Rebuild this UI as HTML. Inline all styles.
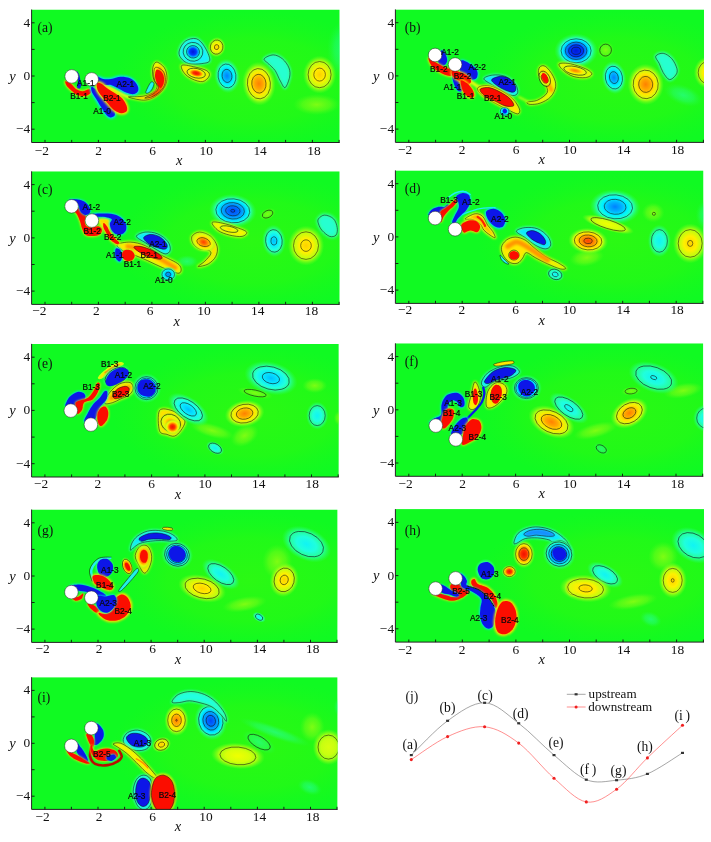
<!DOCTYPE html>
<html><head><meta charset="utf-8"><title>Vorticity contours</title>
<style>
html,body{margin:0;padding:0;background:#fff}
svg{display:block}
.tk{font-family:"Liberation Serif",serif;font-size:13.4px;fill:#111}
.ax{font-family:"Liberation Serif",serif;font-size:14.5px;font-style:italic;fill:#111}
.pl{font-family:"Liberation Serif",serif;font-size:13.6px;fill:#111}
.lg{font-family:"Liberation Serif",serif;font-size:13.1px;fill:#111}
.vl{font-family:"Liberation Sans",sans-serif;fill:#0a0a0a;stroke:#0a0a0a;stroke-width:0.22}
.ct{fill:none;stroke:#111;stroke-width:0.55}
</style></head><body>
<svg width="711" height="842" viewBox="0 0 711 842">
<rect width="711" height="842" fill="#fff"/>
<defs><radialGradient id="gB"><stop offset="0" stop-color="#0018d8"/><stop offset="0.32" stop-color="#0038ff"/><stop offset="0.48" stop-color="#0098ff"/><stop offset="0.62" stop-color="#00f0ff"/><stop offset="0.74" stop-color="#28ffc8" stop-opacity="0.9"/><stop offset="0.86" stop-color="#28ff90" stop-opacity="0.45"/><stop offset="1" stop-color="#28ff60" stop-opacity="0"/></radialGradient><radialGradient id="gB2"><stop offset="0" stop-color="#0048f8"/><stop offset="0.25" stop-color="#0070ff"/><stop offset="0.45" stop-color="#00b0ff"/><stop offset="0.62" stop-color="#00f0ff"/><stop offset="0.74" stop-color="#28ffc8" stop-opacity="0.9"/><stop offset="0.86" stop-color="#28ff90" stop-opacity="0.45"/><stop offset="1" stop-color="#28ff60" stop-opacity="0"/></radialGradient><radialGradient id="gc2"><stop offset="0" stop-color="#00c0ff"/><stop offset="0.3" stop-color="#08e8ff"/><stop offset="0.55" stop-color="#20ffe0"/><stop offset="0.72" stop-color="#28ffb8" stop-opacity="0.8"/><stop offset="0.86" stop-color="#28ff90" stop-opacity="0.4"/><stop offset="1" stop-color="#28ff60" stop-opacity="0"/></radialGradient><radialGradient id="gR2"><stop offset="0" stop-color="#ff4000"/><stop offset="0.22" stop-color="#ff7000"/><stop offset="0.42" stop-color="#ffb000"/><stop offset="0.6" stop-color="#ffe800"/><stop offset="0.74" stop-color="#d8ff10" stop-opacity="0.9"/><stop offset="0.86" stop-color="#a0ff18" stop-opacity="0.45"/><stop offset="1" stop-color="#70ff20" stop-opacity="0"/></radialGradient><radialGradient id="gb"><stop offset="0" stop-color="#0080ff"/><stop offset="0.28" stop-color="#00b4ff"/><stop offset="0.52" stop-color="#00f4ff"/><stop offset="0.72" stop-color="#28ffcc" stop-opacity="0.9"/><stop offset="0.86" stop-color="#28ff90" stop-opacity="0.45"/><stop offset="1" stop-color="#28ff60" stop-opacity="0"/></radialGradient><radialGradient id="gc"><stop offset="0" stop-color="#10f4f4"/><stop offset="0.4" stop-color="#20ffdc"/><stop offset="0.7" stop-color="#28ffb8" stop-opacity="0.8"/><stop offset="0.86" stop-color="#28ff90" stop-opacity="0.4"/><stop offset="1" stop-color="#28ff60" stop-opacity="0"/></radialGradient><radialGradient id="gk"><stop offset="0" stop-color="#28ffc0" stop-opacity="0.5"/><stop offset="0.55" stop-color="#28ffb0" stop-opacity="0.3"/><stop offset="1" stop-color="#28ff60" stop-opacity="0"/></radialGradient><radialGradient id="gR"><stop offset="0" stop-color="#f01000"/><stop offset="0.28" stop-color="#ff3000"/><stop offset="0.46" stop-color="#ff9000"/><stop offset="0.62" stop-color="#ffe800"/><stop offset="0.74" stop-color="#d8ff10" stop-opacity="0.9"/><stop offset="0.86" stop-color="#a0ff18" stop-opacity="0.45"/><stop offset="1" stop-color="#70ff20" stop-opacity="0"/></radialGradient><radialGradient id="go"><stop offset="0" stop-color="#ff8000"/><stop offset="0.26" stop-color="#ffa800"/><stop offset="0.5" stop-color="#ffe800"/><stop offset="0.72" stop-color="#d8ff10" stop-opacity="0.9"/><stop offset="0.86" stop-color="#a0ff18" stop-opacity="0.45"/><stop offset="1" stop-color="#70ff20" stop-opacity="0"/></radialGradient><radialGradient id="gy"><stop offset="0" stop-color="#ffd000"/><stop offset="0.36" stop-color="#fff000"/><stop offset="0.7" stop-color="#d0ff10" stop-opacity="0.85"/><stop offset="0.86" stop-color="#a0ff18" stop-opacity="0.4"/><stop offset="1" stop-color="#70ff20" stop-opacity="0"/></radialGradient><radialGradient id="gw"><stop offset="0" stop-color="#c8ff10" stop-opacity="0.55"/><stop offset="0.6" stop-color="#a8ff18" stop-opacity="0.32"/><stop offset="1" stop-color="#70ff20" stop-opacity="0"/></radialGradient><radialGradient id="ghz"><stop offset="0" stop-color="#50f800" stop-opacity="0.42"/><stop offset="0.6" stop-color="#48f800" stop-opacity="0.3"/><stop offset="1" stop-color="#30f810" stop-opacity="0"/></radialGradient><radialGradient id="gv2"><stop offset="0" stop-color="#d8ff10"/><stop offset="0.45" stop-color="#d0ff10" stop-opacity="0.95"/><stop offset="0.72" stop-color="#b8ff14" stop-opacity="0.8"/><stop offset="0.86" stop-color="#a0ff18" stop-opacity="0.4"/><stop offset="1" stop-color="#70ff20" stop-opacity="0"/></radialGradient><radialGradient id="gv"><stop offset="0" stop-color="#f0ff00"/><stop offset="0.45" stop-color="#e0ff08" stop-opacity="0.95"/><stop offset="0.72" stop-color="#c0ff10" stop-opacity="0.8"/><stop offset="0.86" stop-color="#a0ff18" stop-opacity="0.4"/><stop offset="1" stop-color="#70ff20" stop-opacity="0"/></radialGradient><filter id="bl0" x="-20%" y="-20%" width="140%" height="140%"><feGaussianBlur stdDeviation="0.45"/></filter><filter id="bl1" x="-30%" y="-30%" width="160%" height="160%"><feGaussianBlur stdDeviation="0.9"/></filter><filter id="bl2" x="-40%" y="-40%" width="180%" height="180%"><feGaussianBlur stdDeviation="1.8"/></filter><filter id="bl3" x="-50%" y="-50%" width="200%" height="200%"><feGaussianBlur stdDeviation="4"/></filter><clipPath id="cpa"><rect x="31.6" y="9.5" width="308.1" height="133"/></clipPath><clipPath id="cpb"><rect x="395.4" y="9.4" width="308.6" height="133"/></clipPath><clipPath id="cpc"><rect x="31.6" y="171.3" width="308.1" height="133.1"/></clipPath><clipPath id="cpd"><rect x="395.4" y="170.4" width="308.1" height="133"/></clipPath><clipPath id="cpe"><rect x="31.6" y="343.9" width="307.2" height="133.1"/></clipPath><clipPath id="cpf"><rect x="395.4" y="343.3" width="307.9" height="133"/></clipPath><clipPath id="cpg"><rect x="31.6" y="509.5" width="306" height="132.9"/></clipPath><clipPath id="cph"><rect x="395.4" y="509.1" width="308.6" height="133"/></clipPath><clipPath id="cpi"><rect x="31.6" y="677.2" width="306" height="132.2"/></clipPath></defs>
<g clip-path="url(#cpa)"><rect x="31.6" y="9.5" width="308.1" height="133" fill="#10fa22"/><ellipse cx="252.2" cy="80" rx="139.9" ry="69.3" fill="url(#ghz)"/><ellipse transform="translate(342.7,49.7) rotate(0)" rx="15.7" ry="28.8" fill="url(#gk)"/><ellipse transform="translate(316.5,104.6) rotate(0)" rx="23.5" ry="10.5" fill="url(#gw)"/><path d="M106.1,85.7C107.9,86.7 113.2,89.7 116.9,91.6C120.7,93.5 126.8,96.2 128.8,97.1" fill="none" stroke="#e8ff10" stroke-width="3.5" stroke-linecap="round" stroke-linejoin="round" opacity="1" filter="url(#bl1)"/><path d="M128.4,96.9C128.1,97.3 134,98.8 136.9,99.3C139.8,99.9 143.1,100.4 145.9,100C148.7,99.7 151.1,98.7 153.8,97.2C156.4,95.7 159.6,93.5 161.6,91.2C163.7,88.9 165.3,86 166.1,83.4C167,80.7 167.1,77.9 166.8,75.3C166.5,72.6 165.7,69.6 164.1,67.4C162.5,65.2 159.1,62.7 157.4,62.2C155.6,61.7 154.6,63 153.8,64.6C152.9,66.2 152.5,69.3 152.5,71.9C152.5,74.4 153,77.4 153.8,79.8C154.5,82.2 157.1,84.3 157.1,86.3C157.2,88.3 155.7,90.4 154,91.9C152.3,93.4 149.5,94.5 147,95.3C144.5,96.1 142.2,96.4 139.1,96.6C136,96.9 128.8,96.4 128.4,96.9Z" fill="#fff000" stroke="#c8ff10" stroke-width="2" opacity="1" filter="url(#bl1)"/><path d="M128.4,96.9C128.1,97.3 134,98.8 136.9,99.3C139.8,99.9 143.1,100.4 145.9,100C148.7,99.7 151.1,98.7 153.8,97.2C156.4,95.7 159.6,93.5 161.6,91.2C163.7,88.9 165.3,86 166.1,83.4C167,80.7 167.1,77.9 166.8,75.3C166.5,72.6 165.7,69.6 164.1,67.4C162.5,65.2 159.1,62.7 157.4,62.2C155.6,61.7 154.6,63 153.8,64.6C152.9,66.2 152.5,69.3 152.5,71.9C152.5,74.4 153,77.4 153.8,79.8C154.5,82.2 157.1,84.3 157.1,86.3C157.2,88.3 155.7,90.4 154,91.9C152.3,93.4 149.5,94.5 147,95.3C144.5,96.1 142.2,96.4 139.1,96.6C136,96.9 128.8,96.4 128.4,96.9Z" class="ct"/><path d="M148.1,97.5C149.1,97 151.8,96 153.8,94.6C155.7,93.2 158.3,91.2 159.9,89.3C161.6,87.4 163.1,85.5 163.7,83.1C164.2,80.8 164,77.7 163.3,75.3C162.6,72.8 160,69.6 159.4,68.5" fill="none" stroke="#ff9800" stroke-width="3.6" stroke-linecap="round" stroke-linejoin="round" opacity="1" filter="url(#bl1)"/><path d="M136.9,98C138.8,97.9 146.3,97.6 148.1,97.5" fill="none" stroke="#ffc000" stroke-width="1.6" stroke-linecap="round" stroke-linejoin="round" opacity="1" filter="url(#bl1)"/><path d="M160.7,87.6C160.2,88.4 159,90.8 157.7,92.1C156.3,93.5 153.5,95.1 152.6,95.7" fill="none" stroke="#ff3000" stroke-width="2.2" stroke-linecap="round" stroke-linejoin="round" opacity="1" filter="url(#bl1)"/><path d="M145.9,91.6C146.5,89.8 149.5,83.6 150.8,82.3C152.2,81 153.9,82.4 154,83.7C154.1,85 152.5,88.6 151.4,90.2C150.3,91.8 148.4,92.9 147.5,93.2C146.5,93.4 145.3,93.4 145.9,91.6Z" fill="#20f8e8" opacity="1" filter="url(#bl0)"/><path d="M145.9,91.6C146.5,89.8 149.5,83.6 150.8,82.3C152.2,81 153.9,82.4 154,83.7C154.1,85 152.5,88.6 151.4,90.2C150.3,91.8 148.4,92.9 147.5,93.2C146.5,93.4 145.3,93.4 145.9,91.6Z" class="ct"/><path d="M179.2,51C179.9,48.2 182.3,43.4 185.2,41.3C188,39.3 192.9,37.8 196.2,38.7C199.4,39.6 202.3,43 204.5,46.6C206.8,50.1 210.2,57.3 209.8,60.2C209.3,63 205.4,63 201.9,63.6C198.4,64.1 192.3,64.5 188.8,63.6C185.3,62.7 182.6,60.2 181,58.1C179.4,56 178.5,53.8 179.2,51Z" fill="#18f0ff" stroke="#30ffb0" stroke-width="2.5" opacity="1" filter="url(#bl1)"/><path d="M179.2,51C179.9,48.2 182.3,43.4 185.2,41.3C188,39.3 192.9,37.8 196.2,38.7C199.4,39.6 202.3,43 204.5,46.6C206.8,50.1 210.2,57.3 209.8,60.2C209.3,63 205.4,63 201.9,63.6C198.4,64.1 192.3,64.5 188.8,63.6C185.3,62.7 182.6,60.2 181,58.1C179.4,56 178.5,53.8 179.2,51Z" class="ct"/><g transform="translate(193,51.8) rotate(15)"><ellipse rx="10.5" ry="9.9" fill="url(#gB)"/><ellipse rx="9.9" ry="9.4" class="ct"/><ellipse rx="6.5" ry="6.2" class="ct"/></g><g transform="translate(216.6,47.1) rotate(10)"><ellipse rx="9.1" ry="10.2" fill="url(#gy)"/><ellipse rx="6.3" ry="7.1" class="ct"/><ellipse rx="2.2" ry="2.5" class="ct"/></g><path d="M181.8,65.4C183.3,64.3 189.4,65.8 193.5,66.7C197.7,67.6 204,69.1 206.6,70.6C209.2,72.2 209.9,74 209.2,75.9C208.6,77.7 205.5,81.1 202.7,81.6C199.9,82.1 195.3,80.4 192.2,79C189.2,77.6 186.1,75.5 184.4,73.2C182.6,71 180.2,66.5 181.8,65.4Z" fill="#ffe800" stroke="#c8ff10" stroke-width="2.5" opacity="1" filter="url(#bl1)"/><path d="M181.8,65.4C183.3,64.3 189.4,65.8 193.5,66.7C197.7,67.6 204,69.1 206.6,70.6C209.2,72.2 209.9,74 209.2,75.9C208.6,77.7 205.5,81.1 202.7,81.6C199.9,82.1 195.3,80.4 192.2,79C189.2,77.6 186.1,75.5 184.4,73.2C182.6,71 180.2,66.5 181.8,65.4Z" class="ct"/><g transform="translate(196.2,73.2) rotate(12)"><ellipse rx="11" ry="5.5" fill="url(#gR)"/><ellipse rx="9.3" ry="4.7" class="ct"/></g><g transform="translate(227,75.9) rotate(-8)"><ellipse rx="12.9" ry="17.4" fill="url(#gb)"/><ellipse rx="8.9" ry="12" class="ct"/><ellipse rx="4.9" ry="6.6" class="ct"/></g><g transform="translate(258.9,83.7) rotate(-5)"><ellipse rx="16.7" ry="22" fill="url(#go)"/><ellipse rx="11.5" ry="15.2" class="ct"/><ellipse rx="7.1" ry="9.4" class="ct"/></g><path d="M264.2,58.9C264.9,57.3 270.3,54.9 273.3,54.9C276.4,54.9 279.9,56.7 282.5,58.9C285.1,61 287.9,65 289,68C290.2,71.1 290.2,73.9 289.6,77.2C288.9,80.4 286.6,87 285.1,87.6C283.6,88.3 282.1,83.9 280.4,81.1C278.7,78.3 277.1,73.5 275.2,70.6C273.2,67.8 270.7,66.1 268.9,64.1C267.1,62.1 263.4,60.4 264.2,58.9Z" fill="#28ffd0" stroke="#30ffa0" stroke-width="3" opacity="1" filter="url(#bl1)"/><path d="M264.2,58.9C264.9,57.3 270.3,54.9 273.3,54.9C276.4,54.9 279.9,56.7 282.5,58.9C285.1,61 287.9,65 289,68C290.2,71.1 290.2,73.9 289.6,77.2C288.9,80.4 286.6,87 285.1,87.6C283.6,88.3 282.1,83.9 280.4,81.1C278.7,78.3 277.1,73.5 275.2,70.6C273.2,67.8 270.7,66.1 268.9,64.1C267.1,62.1 263.4,60.4 264.2,58.9Z" class="ct"/><g transform="translate(319.6,74.6) rotate(0)"><ellipse rx="16.7" ry="19" fill="url(#gy)"/><ellipse rx="11.5" ry="13.1" class="ct"/><ellipse rx="5.8" ry="6.5" class="ct"/></g><path d="M76.7,70.7C76.9,70.3 78.5,73 79.1,74.6C79.7,76.2 80.1,78.4 80.4,80.3C80.7,82.1 81.1,84.5 80.9,85.9C80.8,87.3 80,88.6 79.4,88.8C78.7,89 77.1,88.3 76.9,87.2C76.6,86.2 77.6,84.2 77.8,82.5C77.9,80.8 78,78.8 77.8,76.9C77.6,74.9 76.4,71.1 76.7,70.7Z" fill="#0818e8" filter="url(#bl0)"/><path d="M65.4,81.2C66.2,80.9 69.5,82.8 71.3,84.1C73,85.4 74.1,87.8 76,89C77.9,90.2 80.3,91.2 82.5,91.3C84.7,91.3 87.8,89.1 89.3,89.3C90.7,89.4 91.7,91.1 91.2,92.2C90.6,93.2 88.3,95.2 86.1,95.7C83.9,96.2 80.5,96.1 78,95.2C75.5,94.3 72.9,91.8 71,90.2C69.1,88.5 67.5,86.9 66.5,85.4C65.6,83.9 64.6,81.4 65.4,81.2Z" fill="#ffe000" stroke="#ffe000" stroke-width="1.5" filter="url(#bl1)"/><path d="M65.4,81.2C66.2,80.9 69.5,82.8 71.3,84.1C73,85.4 74.1,87.8 76,89C77.9,90.2 80.3,91.2 82.5,91.3C84.7,91.3 87.8,89.1 89.3,89.3C90.7,89.4 91.7,91.1 91.2,92.2C90.6,93.2 88.3,95.2 86.1,95.7C83.9,96.2 80.5,96.1 78,95.2C75.5,94.3 72.9,91.8 71,90.2C69.1,88.5 67.5,86.9 66.5,85.4C65.6,83.9 64.6,81.4 65.4,81.2Z" fill="#fb0a00" filter="url(#bl0)"/><path d="M97.3,77C98.1,76.3 100.9,78.7 103.2,79C105.5,79.3 108.1,79.3 111,79C114,78.6 117.5,76.9 120.9,76.8C124.2,76.8 128.4,77.4 131.1,78.8C133.8,80.1 136,82.9 137.2,84.9C138.4,86.9 138.7,89.1 138.2,90.6C137.7,92.1 136,93.8 134.1,94.1C132.2,94.5 129.3,93.7 126.8,92.8C124.3,91.9 121.5,90.1 118.9,88.8C116.3,87.5 113.5,85.6 111,84.9C108.6,84.2 106.3,85.2 104.1,84.9C102,84.6 99.4,84.6 98.2,83.3C97.1,82 96.4,77.7 97.3,77Z" fill="#00e0ff" stroke="#00e0ff" stroke-width="2.6" filter="url(#bl1)"/><path d="M97.3,77C98.1,76.3 100.9,78.7 103.2,79C105.5,79.3 108.1,79.3 111,79C114,78.6 117.5,76.9 120.9,76.8C124.2,76.8 128.4,77.4 131.1,78.8C133.8,80.1 136,82.9 137.2,84.9C138.4,86.9 138.7,89.1 138.2,90.6C137.7,92.1 136,93.8 134.1,94.1C132.2,94.5 129.3,93.7 126.8,92.8C124.3,91.9 121.5,90.1 118.9,88.8C116.3,87.5 113.5,85.6 111,84.9C108.6,84.2 106.3,85.2 104.1,84.9C102,84.6 99.4,84.6 98.2,83.3C97.1,82 96.4,77.7 97.3,77Z" fill="#0818e8" filter="url(#bl0)"/><path d="M91.5,86.9C92.3,86.6 94.8,88.6 96.5,90.4C98.1,92.2 99.6,95.3 101.6,97.7C103.6,100.1 106.4,102.5 108.5,104.6C110.5,106.7 113,108.7 114,110.5C115,112.3 115.2,114.5 114.6,115.6C114,116.8 111.7,117.6 110.3,117.4C108.8,117.2 107.4,115.9 105.9,114.2C104.4,112.6 102.9,110 101.2,107.3C99.5,104.7 97.4,101 95.9,98.5C94.3,95.9 92.7,93.9 91.9,92C91.2,90 90.8,87.1 91.5,86.9Z" fill="#00e0ff" stroke="#00e0ff" stroke-width="2.6" filter="url(#bl1)"/><path d="M91.5,86.9C92.3,86.6 94.8,88.6 96.5,90.4C98.1,92.2 99.6,95.3 101.6,97.7C103.6,100.1 106.4,102.5 108.5,104.6C110.5,106.7 113,108.7 114,110.5C115,112.3 115.2,114.5 114.6,115.6C114,116.8 111.7,117.6 110.3,117.4C108.8,117.2 107.4,115.9 105.9,114.2C104.4,112.6 102.9,110 101.2,107.3C99.5,104.7 97.4,101 95.9,98.5C94.3,95.9 92.7,93.9 91.9,92C91.2,90 90.8,87.1 91.5,86.9Z" fill="#0818e8" filter="url(#bl0)"/><path d="M96.9,83.3C97.5,82.2 99.8,82.8 101.6,83.7C103.4,84.6 105.2,87 107.5,88.6C109.8,90.3 112.9,91.9 115.4,93.6C117.9,95.2 120.6,96.6 122.5,98.7C124.3,100.7 125.9,103.7 126.6,105.8C127.3,107.9 127.5,110 126.6,111.3C125.7,112.5 123.3,113.4 121.3,113.2C119.3,113.1 116.7,112 114.6,110.5C112.5,109 110.6,106.6 108.7,104.4C106.7,102.2 104.6,99.8 102.8,97.5C101,95.2 98.8,93 97.8,90.6C96.9,88.2 96.2,84.5 96.9,83.3Z" fill="#ffe000" stroke="#ffe000" stroke-width="3.2" filter="url(#bl1)"/><path d="M96.9,83.3C97.5,82.2 99.8,82.8 101.6,83.7C103.4,84.6 105.2,87 107.5,88.6C109.8,90.3 112.9,91.9 115.4,93.6C117.9,95.2 120.6,96.6 122.5,98.7C124.3,100.7 125.9,103.7 126.6,105.8C127.3,107.9 127.5,110 126.6,111.3C125.7,112.5 123.3,113.4 121.3,113.2C119.3,113.1 116.7,112 114.6,110.5C112.5,109 110.6,106.6 108.7,104.4C106.7,102.2 104.6,99.8 102.8,97.5C101,95.2 98.8,93 97.8,90.6C96.9,88.2 96.2,84.5 96.9,83.3Z" fill="#fb0a00" filter="url(#bl0)"/><path d="M157.1,69.4C158.2,69.4 160.5,70.5 161.6,71.9C162.8,73.2 163.7,75.4 164,77.5C164.3,79.6 164,82.5 163.4,84.3C162.9,86 161.5,88 160.5,88.1C159.5,88.1 158.3,86.2 157.4,84.5C156.5,82.7 155.4,79.6 155.1,77.5C154.8,75.4 155.1,73.2 155.4,71.9C155.8,70.5 156.1,69.4 157.1,69.4Z" fill="#fb0a00" filter="url(#bl0)"/><circle cx="71.7" cy="76.4" r="6.8" fill="#fff" stroke="#222" stroke-width="0.5"/><circle cx="91.7" cy="79.4" r="6.8" fill="#fff" stroke="#222" stroke-width="0.5"/><path d="M155.8,67.2C157.3,66.8 161.2,69 162.8,70.8C164.3,72.5 165,75.1 165.2,77.5C165.5,79.9 165.4,82.9 164.4,85.4C163.5,87.8 161.5,90.2 159.4,92.1C157.2,94 153.9,95.9 151.5,96.9C149.1,97.8 144.4,98.5 144.8,98C145.1,97.4 151.5,95.2 153.8,93.5C156,91.8 158.3,89.7 158.5,87.6C158.7,85.5 155.7,83.3 154.9,80.9C154.1,78.4 153.6,75.3 153.8,73C153.9,70.7 154.3,67.5 155.8,67.2Z" class="ct"/><text x="77" y="85.9" class="vl" font-size="8.3">A1-1</text><text x="70.3" y="98.9" class="vl" font-size="8.3">B1-1</text><text x="116.6" y="86.5" class="vl" font-size="8.3">A2-1</text><text x="103.2" y="100.6" class="vl" font-size="8.3">B2-1</text><text x="93.3" y="114" class="vl" font-size="8.3">A1-0</text></g>
<path d="M31.6,9.5V142.5H339.7" fill="none" stroke="#222" stroke-width="1"/><path d="M45,142.5v-2.6M71.7,142.5v-2.6M98.4,142.5v-2.6M125.2,142.5v-2.6M151.9,142.5v-2.6M178.7,142.5v-2.6M205.4,142.5v-2.6M232.1,142.5v-2.6M258.9,142.5v-2.6M285.6,142.5v-2.6M312.4,142.5v-2.6M339.1,142.5v-2.6M31.6,129.2h3M31.6,102.6h3M31.6,76h3M31.6,49.4h3M31.6,22.8h3" stroke="#111" stroke-width="0.9" fill="none"/><text x="41.8" y="154.5" class="tk" text-anchor="middle">−2</text><text x="98.7" y="154.5" class="tk" text-anchor="middle">2</text><text x="152.5" y="154.5" class="tk" text-anchor="middle">6</text><text x="206.3" y="154.5" class="tk" text-anchor="middle">10</text><text x="260.1" y="154.5" class="tk" text-anchor="middle">14</text><text x="313.9" y="154.5" class="tk" text-anchor="middle">18</text><text x="30.3" y="133.1" class="tk" text-anchor="end">−4</text><text x="30.3" y="79.9" class="tk" text-anchor="end">0</text><text x="30.3" y="26.7" class="tk" text-anchor="end">4</text><text x="9.3" y="80.8" class="ax">y</text><text x="176.1" y="164.5" class="ax">x</text><text x="37.4" y="32.3" class="pl">(a)</text>
<g clip-path="url(#cpb)"><rect x="395.4" y="9.4" width="308.6" height="133" fill="#10fa22"/><ellipse cx="616.3" cy="79.9" rx="139.9" ry="69.3" fill="url(#ghz)"/><ellipse transform="translate(683.2,95.1) rotate(20)" rx="20" ry="10" fill="url(#gk)"/><path d="M470.1,81.3C471.6,82.3 475.9,85.4 478.9,87.1C481.8,88.7 486.2,90.6 487.6,91.3" fill="none" stroke="#f0ff10" stroke-width="3.5" stroke-linecap="round" stroke-linejoin="round" opacity="1" filter="url(#bl1)"/><path d="M483.9,78.8C483.9,77.1 489.1,75.5 492.6,75.1C496.2,74.6 501.4,74.9 505.2,76.3C508.9,77.8 513.1,81.1 515.2,83.8C517.3,86.5 518.1,90.6 517.7,92.6C517.3,94.5 515.2,95.8 512.7,95.6C510.2,95.4 506,93.1 502.7,91.3C499.3,89.6 495.8,87.2 492.6,85.1C489.5,83 483.9,80.5 483.9,78.8Z" fill="#10e8ff" stroke="#30ffb0" stroke-width="2" opacity="1" filter="url(#bl1)"/><path d="M483.9,78.8C483.9,77.1 489.1,75.5 492.6,75.1C496.2,74.6 501.4,74.9 505.2,76.3C508.9,77.8 513.1,81.1 515.2,83.8C517.3,86.5 518.1,90.6 517.7,92.6C517.3,94.5 515.2,95.8 512.7,95.6C510.2,95.4 506,93.1 502.7,91.3C499.3,89.6 495.8,87.2 492.6,85.1C489.5,83 483.9,80.5 483.9,78.8Z" class="ct"/><path d="M477.6,88.1C478.5,86.4 483.9,85.2 487.6,85.6C491.4,85.9 496,87.9 500.1,90.1C504.3,92.3 509.5,95.7 512.7,98.8C515.9,102 518.6,106.4 519.4,108.9C520.3,111.4 519.6,113.7 517.7,113.9C515.7,114 511.4,111.4 507.7,109.6C503.9,107.8 499.3,105.4 495.1,103.1C491,100.8 485.5,98.1 482.6,95.6C479.7,93.1 476.8,89.8 477.6,88.1Z" fill="#ffe800" stroke="#c0ff10" stroke-width="2" opacity="1" filter="url(#bl1)"/><path d="M477.6,88.1C478.5,86.4 483.9,85.2 487.6,85.6C491.4,85.9 496,87.9 500.1,90.1C504.3,92.3 509.5,95.7 512.7,98.8C515.9,102 518.6,106.4 519.4,108.9C520.3,111.4 519.6,113.7 517.7,113.9C515.7,114 511.4,111.4 507.7,109.6C503.9,107.8 499.3,105.4 495.1,103.1C491,100.8 485.5,98.1 482.6,95.6C479.7,93.1 476.8,89.8 477.6,88.1Z" class="ct"/><g transform="translate(504.7,111.4) rotate(0)"><ellipse rx="6.4" ry="5.6" fill="url(#gb)"/><ellipse rx="4.3" ry="3.8" class="ct"/></g><path d="M527.2,102.1C528.4,101.4 534.4,101.7 537.7,100.1C541,98.5 546,95.3 547.2,92.6C548.5,89.9 546.6,86.7 545.2,83.8C543.8,80.9 539.6,77.9 538.7,75.1C537.8,72.3 538.5,68.5 539.7,67.1C540.9,65.6 543.5,65 545.7,66.6C548,68.1 551.6,73 553.2,76.3C554.9,79.6 556.1,82.9 555.7,86.3C555.3,89.8 553.3,94 550.7,96.8C548.1,99.6 543.6,101.9 540.2,103.1C536.8,104.4 532.4,104.5 530.2,104.4C528,104.2 525.9,102.8 527.2,102.1Z" fill="#f4f400" stroke="#c0ff10" stroke-width="2" opacity="1" filter="url(#bl1)"/><path d="M527.2,102.1C528.4,101.4 534.4,101.7 537.7,100.1C541,98.5 546,95.3 547.2,92.6C548.5,89.9 546.6,86.7 545.2,83.8C543.8,80.9 539.6,77.9 538.7,75.1C537.8,72.3 538.5,68.5 539.7,67.1C540.9,65.6 543.5,65 545.7,66.6C548,68.1 551.6,73 553.2,76.3C554.9,79.6 556.1,82.9 555.7,86.3C555.3,89.8 553.3,94 550.7,96.8C548.1,99.6 543.6,101.9 540.2,103.1C536.8,104.4 532.4,104.5 530.2,104.4C528,104.2 525.9,102.8 527.2,102.1Z" class="ct"/><path d="M542.7,72.6C543.5,74 545.8,78.4 547.2,81.3C548.7,84.2 550.8,88.6 551.5,90.1" fill="none" stroke="#ffa000" stroke-width="4" stroke-linecap="round" stroke-linejoin="round" opacity="1" filter="url(#bl1)"/><g transform="translate(544.7,78.8) rotate(-25)"><ellipse rx="5.5" ry="8.5" fill="url(#gR)"/><ellipse rx="5.2" ry="8.1" class="ct"/><ellipse rx="3" ry="4.7" class="ct"/></g><path d="M518.9,97.1C520.4,97.8 526.2,100.8 527.7,101.6" fill="none" stroke="#c0ff10" stroke-width="2" stroke-linecap="round" stroke-linejoin="round" opacity="1" filter="url(#bl1)"/><g transform="translate(576.1,50.8) rotate(0)"><ellipse rx="21.8" ry="17.4" fill="url(#gB)"/><ellipse rx="15" ry="12" class="ct"/><ellipse rx="10.8" ry="8.7" class="ct"/><ellipse rx="7.5" ry="6" class="ct"/><ellipse rx="4.5" ry="3.6" class="ct"/></g><g transform="translate(605.6,50.1) rotate(20)"><ellipse rx="8.6" ry="9" fill="url(#gw)"/><ellipse rx="5.8" ry="6" class="ct"/></g><path d="M559.3,63.8C560.5,62.8 566.2,63 570.6,63.8C574.9,64.7 582,67.2 585.6,68.8C589.1,70.5 591.8,72.4 591.8,73.9C591.8,75.3 588.7,77.2 585.6,77.6C582.4,78 576.8,77.6 573.1,76.4C569.3,75.1 565.3,72.2 563,70.1C560.7,68 558,64.9 559.3,63.8Z" fill="#fff000" stroke="#c0ff10" stroke-width="2.5" opacity="1" filter="url(#bl1)"/><path d="M559.3,63.8C560.5,62.8 566.2,63 570.6,63.8C574.9,64.7 582,67.2 585.6,68.8C589.1,70.5 591.8,72.4 591.8,73.9C591.8,75.3 588.7,77.2 585.6,77.6C582.4,78 576.8,77.6 573.1,76.4C569.3,75.1 565.3,72.2 563,70.1C560.7,68 558,64.9 559.3,63.8Z" class="ct"/><g transform="translate(575.1,70.6) rotate(12)"><ellipse rx="14.4" ry="5" fill="url(#go)"/><ellipse rx="11.5" ry="4" class="ct"/></g><g transform="translate(613.9,77.6) rotate(-10)"><ellipse rx="12.3" ry="16.7" fill="url(#gb)"/><ellipse rx="8.5" ry="11.5" class="ct"/><ellipse rx="4.4" ry="6" class="ct"/></g><g transform="translate(645.7,84.4) rotate(-5)"><ellipse rx="18.2" ry="20.7" fill="url(#go)"/><ellipse rx="12.5" ry="14.3" class="ct"/><ellipse rx="7" ry="8" class="ct"/></g><path d="M655.7,56.3C656.3,54.6 660.5,52.9 663.2,53.3C665.9,53.7 669.7,56.2 671.9,58.8C674.2,61.4 676.3,66.1 677,68.8C677.6,71.6 677,73.3 675.7,75.1C674.4,76.9 671.5,80 669.4,79.6C667.4,79.2 664.9,75.2 663.2,72.6C661.5,70 660.7,66.6 659.4,63.8C658.2,61.1 655,58.1 655.7,56.3Z" fill="#28ffd0" stroke="#30ffa0" stroke-width="3" opacity="1" filter="url(#bl1)"/><path d="M655.7,56.3C656.3,54.6 660.5,52.9 663.2,53.3C665.9,53.7 669.7,56.2 671.9,58.8C674.2,61.4 676.3,66.1 677,68.8C677.6,71.6 677,73.3 675.7,75.1C674.4,76.9 671.5,80 669.4,79.6C667.4,79.2 664.9,75.2 663.2,72.6C661.5,70 660.7,66.6 659.4,63.8C658.2,61.1 655,58.1 655.7,56.3Z" class="ct"/><g transform="translate(708.2,72.6) rotate(0)"><ellipse rx="14.5" ry="16.3" fill="url(#gy)"/><ellipse rx="10" ry="11.3" class="ct"/></g><path d="M441.3,50.5C442.5,49.2 444.6,52.7 445.6,54.5C446.5,56.3 447.5,59.4 447.1,61.3C446.7,63.2 444.5,65.6 443.1,65.8C441.6,66 438.6,65.1 438.3,62.5C438,60 440.1,51.9 441.3,50.5Z" fill="#00e0ff" stroke="#00e0ff" stroke-width="1" filter="url(#bl1)"/><path d="M441.3,50.5C442.5,49.2 444.6,52.7 445.6,54.5C446.5,56.3 447.5,59.4 447.1,61.3C446.7,63.2 444.5,65.6 443.1,65.8C441.6,66 438.6,65.1 438.3,62.5C438,60 440.1,51.9 441.3,50.5Z" fill="#0818e8" filter="url(#bl0)"/><path d="M428.5,58C429,57.3 432.6,60.6 435.1,62C437.5,63.5 440.2,65.2 443.1,66.6C445.9,67.9 449.7,68.8 452.1,70.1C454.4,71.3 457.5,72.8 457.1,73.8C456.7,74.8 452.4,76.3 449.6,76.1C446.7,75.9 443,74.1 440.1,72.6C437.1,71 434,69 432.1,66.6C430.1,64.1 428,58.8 428.5,58Z" fill="#ffe000" stroke="#ffe000" stroke-width="1.5" filter="url(#bl1)"/><path d="M428.5,58C429,57.3 432.6,60.6 435.1,62C437.5,63.5 440.2,65.2 443.1,66.6C445.9,67.9 449.7,68.8 452.1,70.1C454.4,71.3 457.5,72.8 457.1,73.8C456.7,74.8 452.4,76.3 449.6,76.1C446.7,75.9 443,74.1 440.1,72.6C437.1,71 434,69 432.1,66.6C430.1,64.1 428,58.8 428.5,58Z" fill="#fb0a00" filter="url(#bl0)"/><path d="M461.3,60.5C463.1,59.4 468,62.6 470.6,64.3C473.2,66 476.1,68.5 477.1,70.8C478.1,73.1 477.7,76.6 476.6,78.1C475.5,79.5 472.5,79.9 470.6,79.6C468.7,79.2 466.9,77.2 465.1,75.8C463.3,74.4 460.7,73.9 460.1,71.3C459.5,68.8 459.6,61.7 461.3,60.5Z" fill="#00e0ff" stroke="#00e0ff" stroke-width="1.5" filter="url(#bl1)"/><path d="M461.3,60.5C463.1,59.4 468,62.6 470.6,64.3C473.2,66 476.1,68.5 477.1,70.8C478.1,73.1 477.7,76.6 476.6,78.1C475.5,79.5 472.5,79.9 470.6,79.6C468.7,79.2 466.9,77.2 465.1,75.8C463.3,74.4 460.7,73.9 460.1,71.3C459.5,68.8 459.6,61.7 461.3,60.5Z" fill="#0818e8" filter="url(#bl0)"/><path d="M452.1,74.6C452.7,73.5 455.8,76.6 457.6,78.1C459.3,79.5 461.8,81.2 462.6,83.3C463.3,85.5 462.9,89.6 462.1,90.8C461.3,92 458.9,91.7 457.6,90.6C456.3,89.5 455,87 454.1,84.3C453.2,81.7 451.5,75.6 452.1,74.6Z" fill="#00e0ff" stroke="#00e0ff" stroke-width="1" filter="url(#bl1)"/><path d="M452.1,74.6C452.7,73.5 455.8,76.6 457.6,78.1C459.3,79.5 461.8,81.2 462.6,83.3C463.3,85.5 462.9,89.6 462.1,90.8C461.3,92 458.9,91.7 457.6,90.6C456.3,89.5 455,87 454.1,84.3C453.2,81.7 451.5,75.6 452.1,74.6Z" fill="#0818e8" filter="url(#bl0)"/><path d="M452.1,70.6C453,69.7 456.3,71 458.8,71.8C461.3,72.6 465.1,74 467.1,75.6C469.1,77.1 471.1,79.8 471.1,81.3C471.1,82.9 469,84.9 467.1,84.8C465.2,84.8 461.9,82.4 459.6,81.1C457.3,79.7 454.3,78.6 453.1,76.8C451.8,75.1 451.1,71.4 452.1,70.6Z" fill="#ffe000" stroke="#ffe000" stroke-width="2" filter="url(#bl1)"/><path d="M452.1,70.6C453,69.7 456.3,71 458.8,71.8C461.3,72.6 465.1,74 467.1,75.6C469.1,77.1 471.1,79.8 471.1,81.3C471.1,82.9 469,84.9 467.1,84.8C465.2,84.8 461.9,82.4 459.6,81.1C457.3,79.7 454.3,78.6 453.1,76.8C451.8,75.1 451.1,71.4 452.1,70.6Z" fill="#fb0a00" filter="url(#bl0)"/><path d="M460.6,80.6C461.2,79.1 464.9,81.6 466.9,83.1C468.8,84.6 471.1,87.4 472.4,89.6C473.6,91.8 474.7,94.8 474.1,96.1C473.6,97.4 470.9,98.1 469.1,97.3C467.3,96.6 464.8,94.6 463.3,91.8C461.9,89 460,82 460.6,80.6Z" fill="#ffe000" stroke="#ffe000" stroke-width="2" filter="url(#bl1)"/><path d="M460.6,80.6C461.2,79.1 464.9,81.6 466.9,83.1C468.8,84.6 471.1,87.4 472.4,89.6C473.6,91.8 474.7,94.8 474.1,96.1C473.6,97.4 470.9,98.1 469.1,97.3C467.3,96.6 464.8,94.6 463.3,91.8C461.9,89 460,82 460.6,80.6Z" fill="#fb0a00" filter="url(#bl0)"/><path d="M491.6,79.8C492.2,78.3 497.6,76.4 500.6,76.3C503.7,76.2 507.7,77.5 510.2,79.3C512.7,81.1 515.1,85 515.7,87.1C516.3,89.2 515.4,91.6 513.7,92.1C511.9,92.6 507.9,91.2 505.2,90.1C502.4,89 499.4,87.3 497.1,85.6C494.9,83.9 491.1,81.4 491.6,79.8Z" fill="#0818e8" filter="url(#bl0)"/><path d="M491.6,79.8C492.2,78.3 497.6,76.4 500.6,76.3C503.7,76.2 507.7,77.5 510.2,79.3C512.7,81.1 515.1,85 515.7,87.1C516.3,89.2 515.4,91.6 513.7,92.1C511.9,92.6 507.9,91.2 505.2,90.1C502.4,89 499.4,87.3 497.1,85.6C494.9,83.9 491.1,81.4 491.6,79.8Z" class="ct"/><path d="M480.1,89.3C480.8,88 485.7,87.2 488.9,87.6C492.1,88 495.9,89.8 499.4,91.6C502.9,93.4 507.3,96 509.7,98.3C512,100.7 514.4,104.4 513.7,105.6C512.9,106.9 508.2,106.6 505.2,105.9C502.1,105.1 498.6,102.8 495.1,101.1C491.7,99.4 487.1,97.8 484.6,95.8C482.1,93.9 479.4,90.7 480.1,89.3Z" fill="#ffe000" stroke="#ffe000" stroke-width="2.5" filter="url(#bl1)"/><path d="M480.1,89.3C480.8,88 485.7,87.2 488.9,87.6C492.1,88 495.9,89.8 499.4,91.6C502.9,93.4 507.3,96 509.7,98.3C512,100.7 514.4,104.4 513.7,105.6C512.9,106.9 508.2,106.6 505.2,105.9C502.1,105.1 498.6,102.8 495.1,101.1C491.7,99.4 487.1,97.8 484.6,95.8C482.1,93.9 479.4,90.7 480.1,89.3Z" fill="#fb0a00" filter="url(#bl0)"/><path d="M480.1,89.3C480.8,88 485.7,87.2 488.9,87.6C492.1,88 495.9,89.8 499.4,91.6C502.9,93.4 507.3,96 509.7,98.3C512,100.7 514.4,104.4 513.7,105.6C512.9,106.9 508.2,106.6 505.2,105.9C502.1,105.1 498.6,102.8 495.1,101.1C491.7,99.4 487.1,97.8 484.6,95.8C482.1,93.9 479.4,90.7 480.1,89.3Z" class="ct"/><path d="M502.7,110.6C502.8,109.9 503.9,108.6 504.7,108.6C505.4,108.6 506.7,109.9 506.9,110.6C507.2,111.4 506.7,112.7 506.2,113.1C505.6,113.5 504.2,113.5 503.7,113.1C503.1,112.7 502.5,111.4 502.7,110.6Z" fill="#0818e8" filter="url(#bl0)"/><path d="M541.5,76.3C541.3,74.8 542.4,73.3 543.2,73.1C544,72.9 545.6,73.9 546.5,75.1C547.3,76.2 548.1,78.7 548.2,80.1C548.3,81.4 547.9,82.7 547.2,83.1C546.5,83.4 545.2,83.2 544.2,82.1C543.2,80.9 541.6,77.8 541.5,76.3Z" fill="#fb0a00" filter="url(#bl0)"/><circle cx="435.1" cy="55" r="6.8" fill="#fff" stroke="#222" stroke-width="0.5"/><circle cx="455.1" cy="64.5" r="6.8" fill="#fff" stroke="#222" stroke-width="0.5"/><text x="441.3" y="55.3" class="vl" font-size="8.3">A1-2</text><text x="468.4" y="70.3" class="vl" font-size="8.3">A2-2</text><text x="430" y="71.6" class="vl" font-size="8.3">B1-2</text><text x="453.8" y="79.1" class="vl" font-size="8.3">B2-2</text><text x="443.8" y="89.6" class="vl" font-size="8.3">A1-1</text><text x="456.8" y="99.3" class="vl" font-size="8.3">B1-1</text><text x="498.4" y="85.3" class="vl" font-size="8.3">A2-1</text><text x="483.9" y="100.6" class="vl" font-size="8.3">B2-1</text><text x="494.6" y="118.6" class="vl" font-size="8.3">A1-0</text></g>
<path d="M395.4,9.4V142.4H704" fill="none" stroke="#222" stroke-width="1"/><path d="M408.8,142.4v-2.6M435.6,142.4v-2.6M462.3,142.4v-2.6M489.1,142.4v-2.6M515.9,142.4v-2.6M542.7,142.4v-2.6M569.5,142.4v-2.6M596.2,142.4v-2.6M623,142.4v-2.6M649.8,142.4v-2.6M676.6,142.4v-2.6M703.4,142.4v-2.6M395.4,129.1h3M395.4,102.5h3M395.4,75.9h3M395.4,49.3h3M395.4,22.7h3" stroke="#111" stroke-width="0.9" fill="none"/><text x="405.1" y="153.8" class="tk" text-anchor="middle">−2</text><text x="462.1" y="153.8" class="tk" text-anchor="middle">2</text><text x="516" y="153.8" class="tk" text-anchor="middle">6</text><text x="569.9" y="153.8" class="tk" text-anchor="middle">10</text><text x="623.7" y="153.8" class="tk" text-anchor="middle">14</text><text x="677.6" y="153.8" class="tk" text-anchor="middle">18</text><text x="394.1" y="133" class="tk" text-anchor="end">−4</text><text x="394.1" y="79.8" class="tk" text-anchor="end">0</text><text x="394.1" y="26.6" class="tk" text-anchor="end">4</text><text x="373.1" y="80.7" class="ax">y</text><text x="538.6" y="164.4" class="ax">x</text><text x="404.8" y="32.2" class="pl">(b)</text>
<g clip-path="url(#cpc)"><rect x="31.6" y="171.3" width="308.1" height="133.1" fill="#10fa22"/><ellipse cx="252.2" cy="241.8" rx="139.9" ry="69.3" fill="url(#ghz)"/><ellipse transform="translate(187,261.4) rotate(0)" rx="11.3" ry="6.3" fill="url(#gk)"/><path d="M99.2,219.5C100.2,218.6 104.3,218.1 106.1,218.6C107.9,219 109.6,220.8 110.1,222.5C110.5,224.1 110.1,227.6 109.1,228.4C108.1,229.2 105.6,228.2 104.1,227.4C102.7,226.7 101,225.2 100.2,223.9C99.4,222.6 98.2,220.4 99.2,219.5Z" fill="#ffd000" stroke="#e0ff10" stroke-width="2" opacity="1" filter="url(#bl1)"/><path d="M117.2,244.6C118.4,243.2 125.5,242 130.2,242.1C134.9,242.3 140.2,243.5 145.2,245.6C150.2,247.7 154.6,251.5 160.2,254.6C165.9,257.8 175.9,261.6 179,264.7C182.1,267.7 181.7,272.7 179,273.2C176.3,273.7 167.9,269.8 162.7,267.7C157.5,265.6 152.7,262.9 147.7,260.7C142.7,258.4 136.9,256.1 132.7,254.4C128.5,252.7 125.3,252.3 122.7,250.6C120.1,249 115.9,246.1 117.2,244.6Z" fill="#ffe800" stroke="#c0ff10" stroke-width="2.5" opacity="1" filter="url(#bl1)"/><path d="M117.2,244.6C118.4,243.2 125.5,242 130.2,242.1C134.9,242.3 140.2,243.5 145.2,245.6C150.2,247.7 154.6,251.5 160.2,254.6C165.9,257.8 175.9,261.6 179,264.7C182.1,267.7 181.7,272.7 179,273.2C176.3,273.7 167.9,269.8 162.7,267.7C157.5,265.6 152.7,262.9 147.7,260.7C142.7,258.4 136.9,256.1 132.7,254.4C128.5,252.7 125.3,252.3 122.7,250.6C120.1,249 115.9,246.1 117.2,244.6Z" class="ct"/><path d="M127.7,246.4C130.2,246.9 137.3,247.6 142.7,249.6C148.1,251.7 154.8,255.9 160.2,258.9C165.6,261.9 172.7,266.2 175.2,267.7" fill="none" stroke="#ff9800" stroke-width="4.5" stroke-linecap="round" stroke-linejoin="round" opacity="1" filter="url(#bl1)"/><g transform="translate(128.2,255.6) rotate(0)"><ellipse rx="8.6" ry="7.5" fill="url(#gR)"/></g><path d="M136.4,236.4C136.4,234.6 141.7,232.5 145.2,232.1C148.8,231.7 154,232.3 157.7,233.9C161.5,235.4 165.6,238.7 167.7,241.4C169.8,244.1 170.7,248.1 170.2,250.1C169.8,252.2 167.7,254.1 165.2,253.9C162.7,253.7 158.6,250.8 155.2,248.9C151.9,247 148.3,244.7 145.2,242.6C142.1,240.5 136.4,238.1 136.4,236.4Z" fill="#10e8ff" stroke="#30ffb0" stroke-width="2" opacity="1" filter="url(#bl1)"/><path d="M136.4,236.4C136.4,234.6 141.7,232.5 145.2,232.1C148.8,231.7 154,232.3 157.7,233.9C161.5,235.4 165.6,238.7 167.7,241.4C169.8,244.1 170.7,248.1 170.2,250.1C169.8,252.2 167.7,254.1 165.2,253.9C162.7,253.7 158.6,250.8 155.2,248.9C151.9,247 148.3,244.7 145.2,242.6C142.1,240.5 136.4,238.1 136.4,236.4Z" class="ct"/><g transform="translate(168.2,274.4) rotate(0)"><ellipse rx="9.1" ry="8" fill="url(#gb)"/><ellipse rx="6.3" ry="5.5" class="ct"/><ellipse rx="2.5" ry="2.2" class="ct"/></g><path d="M192,236.4C193.1,234.4 196.4,232.1 199.6,232.1C202.7,232.1 207.9,234 210.8,236.4C213.7,238.7 216.2,243 217.1,246.4C217.9,249.7 217.3,253.5 215.8,256.4C214.4,259.3 211.2,262.2 208.3,263.9C205.4,265.6 198.9,266.8 198.3,266.4C197.7,266 202.5,263.5 204.6,261.4C206.6,259.3 210.2,255.8 210.8,253.9C211.4,252 210.2,251 208.3,250.1C206.4,249.3 202.1,249.9 199.6,248.9C197,247.8 194.5,245.9 193.3,243.9C192,241.8 191,238.3 192,236.4Z" fill="#ffe000" stroke="#c0ff10" stroke-width="2.5" opacity="1" filter="url(#bl1)"/><path d="M192,236.4C193.1,234.4 196.4,232.1 199.6,232.1C202.7,232.1 207.9,234 210.8,236.4C213.7,238.7 216.2,243 217.1,246.4C217.9,249.7 217.3,253.5 215.8,256.4C214.4,259.3 211.2,262.2 208.3,263.9C205.4,265.6 198.9,266.8 198.3,266.4C197.7,266 202.5,263.5 204.6,261.4C206.6,259.3 210.2,255.8 210.8,253.9C211.4,252 210.2,251 208.3,250.1C206.4,249.3 202.1,249.9 199.6,248.9C197,247.8 194.5,245.9 193.3,243.9C192,241.8 191,238.3 192,236.4Z" class="ct"/><g transform="translate(203.6,242.1) rotate(25)"><ellipse rx="13" ry="9.5" fill="url(#gR2)"/></g><g transform="translate(232.8,210.8) rotate(5)"><ellipse rx="23.8" ry="16.8" fill="url(#gB2)"/><ellipse rx="17" ry="12" class="ct"/><ellipse rx="11.6" ry="8.2" class="ct"/><ellipse rx="7.2" ry="5" class="ct"/><ellipse rx="2" ry="1.4" class="ct"/></g><path d="M212.1,222.6C212.7,221.3 217.9,222.2 222.1,223.1C226.3,223.9 233,226.1 237.1,227.6C241.2,229.1 245.8,230.6 246.6,232.1C247.5,233.6 244.9,235.8 242.1,236.4C239.3,236.9 233.6,236.1 229.6,235.1C225.6,234.1 221.2,232.7 218.3,230.6C215.4,228.5 211.4,223.8 212.1,222.6Z" fill="#f8f400" stroke="#c0ff10" stroke-width="2.5" opacity="1" filter="url(#bl1)"/><path d="M212.1,222.6C212.7,221.3 217.9,222.2 222.1,223.1C226.3,223.9 233,226.1 237.1,227.6C241.2,229.1 245.8,230.6 246.6,232.1C247.5,233.6 244.9,235.8 242.1,236.4C239.3,236.9 233.6,236.1 229.6,235.1C225.6,234.1 221.2,232.7 218.3,230.6C215.4,228.5 211.4,223.8 212.1,222.6Z" class="ct"/><g transform="translate(229.1,229.1) rotate(12)"><ellipse rx="10.8" ry="3.3" fill="url(#gy)"/><ellipse rx="9" ry="2.8" class="ct"/></g><g transform="translate(267.6,214.1) rotate(-25)"><ellipse rx="8.8" ry="5.6" fill="url(#gw)"/><ellipse rx="5.5" ry="3.5" class="ct"/></g><g transform="translate(273.9,240.9) rotate(-5)"><ellipse rx="12" ry="16.3" fill="url(#gc2)"/><ellipse rx="8.3" ry="11.3" class="ct"/><ellipse rx="3" ry="4.1" class="ct"/></g><g transform="translate(306,245.6) rotate(0)"><ellipse rx="18.2" ry="20" fill="url(#gy)"/><ellipse rx="12.5" ry="13.8" class="ct"/><ellipse rx="5.3" ry="5.8" class="ct"/></g><path d="M318.5,218.8C319.5,217.4 322.2,215.1 324.7,215.1C327.2,215.1 331.4,216.7 333.5,218.8C335.6,220.9 336.8,224.9 337.2,227.6C337.7,230.3 337.2,233.6 336,235.1C334.7,236.6 332,237.1 329.7,236.4C327.4,235.6 324.1,232.7 322.2,230.6C320.3,228.5 319.1,225.8 318.5,223.8C317.8,221.9 317.4,220.3 318.5,218.8Z" fill="#28ffd0" stroke="#30ffa0" stroke-width="3" opacity="1" filter="url(#bl2)"/><path d="M318.5,218.8C319.5,217.4 322.2,215.1 324.7,215.1C327.2,215.1 331.4,216.7 333.5,218.8C335.6,220.9 336.8,224.9 337.2,227.6C337.7,230.3 337.2,233.6 336,235.1C334.7,236.6 332,237.1 329.7,236.4C327.4,235.6 324.1,232.7 322.2,230.6C320.3,228.5 319.1,225.8 318.5,223.8C317.8,221.9 317.4,220.3 318.5,218.8Z" class="ct"/><path d="M74,209.7C74.4,208.6 77.9,208 79.5,208.3C81.2,208.6 82.8,210.1 83.9,211.3C84.9,212.5 85.7,213.9 85.8,215.6C86,217.3 84.5,219.7 84.7,221.5C84.8,223.3 85.4,225.2 86.6,226.2C87.8,227.2 89.8,227.4 91.7,227.4C93.7,227.4 96.5,225.9 98.2,226.2C99.9,226.6 101.8,228 102,229.4C102.2,230.8 101.2,233.4 99.6,234.5C98,235.6 94.7,236 92.3,236.1C90,236.1 87.1,235.9 85.4,234.7C83.7,233.5 83,230.8 82.1,228.6C81.2,226.4 80.9,223.8 80.1,221.5C79.3,219.2 78.2,216.8 77.2,214.8C76.2,212.8 73.6,210.8 74,209.7Z" fill="#ffe000" stroke="#ffe000" stroke-width="1.2" filter="url(#bl1)"/><path d="M74,209.7C74.4,208.6 77.9,208 79.5,208.3C81.2,208.6 82.8,210.1 83.9,211.3C84.9,212.5 85.7,213.9 85.8,215.6C86,217.3 84.5,219.7 84.7,221.5C84.8,223.3 85.4,225.2 86.6,226.2C87.8,227.2 89.8,227.4 91.7,227.4C93.7,227.4 96.5,225.9 98.2,226.2C99.9,226.6 101.8,228 102,229.4C102.2,230.8 101.2,233.4 99.6,234.5C98,235.6 94.7,236 92.3,236.1C90,236.1 87.1,235.9 85.4,234.7C83.7,233.5 83,230.8 82.1,228.6C81.2,226.4 80.9,223.8 80.1,221.5C79.3,219.2 78.2,216.8 77.2,214.8C76.2,212.8 73.6,210.8 74,209.7Z" fill="#fb0a00" filter="url(#bl0)"/><path d="M68.9,200.2C68.8,199.3 74.9,199.2 77.6,199.5C80.2,199.7 82.7,200.5 84.7,201.8C86.6,203.1 88.5,205.5 89.4,207.3C90.3,209.1 90.6,211.4 90,212.6C89.4,213.9 87.2,215 85.8,215C84.4,215 82.6,213.9 81.5,212.8C80.5,211.8 80.1,210.2 79.5,208.9C78.9,207.6 79.7,206.4 78,205C76.2,203.5 69,201.2 68.9,200.2Z" fill="#00e0ff" stroke="#00e0ff" stroke-width="1" filter="url(#bl1)"/><path d="M68.9,200.2C68.8,199.3 74.9,199.2 77.6,199.5C80.2,199.7 82.7,200.5 84.7,201.8C86.6,203.1 88.5,205.5 89.4,207.3C90.3,209.1 90.6,211.4 90,212.6C89.4,213.9 87.2,215 85.8,215C84.4,215 82.6,213.9 81.5,212.8C80.5,211.8 80.1,210.2 79.5,208.9C78.9,207.6 79.7,206.4 78,205C76.2,203.5 69,201.2 68.9,200.2Z" fill="#0818e8" filter="url(#bl0)"/><path d="M92.3,214C93.5,213.5 98.1,213.5 101.2,213.4C104.3,213.4 108,213.3 111,213.8C114.1,214.3 116.9,214.9 119.3,216.4C121.7,217.8 124.1,220.3 125.2,222.5C126.4,224.7 126.7,227.4 126.2,229.4C125.7,231.3 123.8,233.3 122.1,234.1C120.4,234.9 117.8,234.9 116,234.1C114.2,233.3 112.3,231.2 111.2,229.4C110.2,227.6 109.8,225.1 109.9,223.5C110,221.8 112.3,220.4 111.8,219.3C111.4,218.3 109.2,217.8 107.1,217.4C105,216.9 101.4,216.9 99.2,216.8C97.1,216.7 95.5,217.2 94.3,216.8C93.2,216.3 91.2,214.6 92.3,214Z" fill="#00e0ff" stroke="#00e0ff" stroke-width="1.5" filter="url(#bl1)"/><path d="M92.3,214C93.5,213.5 98.1,213.5 101.2,213.4C104.3,213.4 108,213.3 111,213.8C114.1,214.3 116.9,214.9 119.3,216.4C121.7,217.8 124.1,220.3 125.2,222.5C126.4,224.7 126.7,227.4 126.2,229.4C125.7,231.3 123.8,233.3 122.1,234.1C120.4,234.9 117.8,234.9 116,234.1C114.2,233.3 112.3,231.2 111.2,229.4C110.2,227.6 109.8,225.1 109.9,223.5C110,221.8 112.3,220.4 111.8,219.3C111.4,218.3 109.2,217.8 107.1,217.4C105,216.9 101.4,216.9 99.2,216.8C97.1,216.7 95.5,217.2 94.3,216.8C93.2,216.3 91.2,214.6 92.3,214Z" fill="#0818e8" filter="url(#bl0)"/><path d="M103.6,223.1C104.1,222.9 106,224.9 107.1,226.4C108.2,228 108.7,230.3 110.1,232.3C111.4,234.4 113.8,237.1 115.4,238.8C116.9,240.6 119.1,241.9 119.3,242.8C119.5,243.6 117.9,244.4 116.6,244C115.2,243.5 112.7,241.9 111,240.2C109.4,238.5 108,235.8 106.7,233.7C105.5,231.6 104.1,229.6 103.6,227.8C103,226 103,223.3 103.6,223.1Z" fill="#ffe000" stroke="#ffe000" stroke-width="2" filter="url(#bl1)"/><path d="M103.6,223.1C104.1,222.9 106,224.9 107.1,226.4C108.2,228 108.7,230.3 110.1,232.3C111.4,234.4 113.8,237.1 115.4,238.8C116.9,240.6 119.1,241.9 119.3,242.8C119.5,243.6 117.9,244.4 116.6,244C115.2,243.5 112.7,241.9 111,240.2C109.4,238.5 108,235.8 106.7,233.7C105.5,231.6 104.1,229.6 103.6,227.8C103,226 103,223.3 103.6,223.1Z" fill="#fb0a00" filter="url(#bl0)"/><path d="M133.9,247.1C134.1,246.1 138.3,246.1 141.4,246.6C144.6,247.2 149.4,249 152.7,250.6C156.1,252.3 160.2,255 161.5,256.4C162.7,257.8 162.1,259 160.2,259.2C158.3,259.3 153.5,258.2 150.2,257.2C146.9,256.1 142.9,254.3 140.2,252.6C137.5,251 133.7,248.1 133.9,247.1Z" fill="#fb0a00" filter="url(#bl0)"/><path d="M133.9,247.1C134.1,246.1 138.3,246.1 141.4,246.6C144.6,247.2 149.4,249 152.7,250.6C156.1,252.3 160.2,255 161.5,256.4C162.7,257.8 162.1,259 160.2,259.2C158.3,259.3 153.5,258.2 150.2,257.2C146.9,256.1 142.9,254.3 140.2,252.6C137.5,251 133.7,248.1 133.9,247.1Z" class="ct"/><path d="M115.7,248.9C116.4,247.6 119.1,248.9 120.2,250.1C121.3,251.4 122.3,254.5 122.2,256.4C122.1,258.3 120.8,261.2 119.7,261.4C118.6,261.6 116.3,259.7 115.7,257.7C115,255.6 114.9,250.1 115.7,248.9Z" fill="#00e0ff" stroke="#00e0ff" stroke-width="2" filter="url(#bl1)"/><path d="M115.7,248.9C116.4,247.6 119.1,248.9 120.2,250.1C121.3,251.4 122.3,254.5 122.2,256.4C122.1,258.3 120.8,261.2 119.7,261.4C118.6,261.6 116.3,259.7 115.7,257.7C115,255.6 114.9,250.1 115.7,248.9Z" fill="#0818e8" filter="url(#bl0)"/><path d="M122.2,253.1C122.6,251.9 123.6,250.6 125.2,250.1C126.7,249.7 129.8,249.7 131.4,250.6C133,251.6 134.6,254.1 134.7,255.6C134.8,257.2 133.6,259.3 132.2,260.2C130.8,261 128,261.1 126.4,260.7C124.8,260.2 123.4,258.9 122.7,257.7C122,256.4 121.8,254.4 122.2,253.1Z" fill="#fb0a00" filter="url(#bl0)"/><path d="M143.7,237.6C144.2,236.1 148.1,234.4 151,234.4C153.8,234.3 158.1,235.7 160.7,237.4C163.4,239.1 166.2,242.7 167,244.6C167.7,246.6 167,248.7 165.2,249.1C163.5,249.6 159.3,248.3 156.5,247.4C153.6,246.4 150.3,245 148.2,243.4C146.1,241.8 143.2,239.1 143.7,237.6Z" fill="#0818e8" filter="url(#bl0)"/><path d="M143.7,237.6C144.2,236.1 148.1,234.4 151,234.4C153.8,234.3 158.1,235.7 160.7,237.4C163.4,239.1 166.2,242.7 167,244.6C167.7,246.6 167,248.7 165.2,249.1C163.5,249.6 159.3,248.3 156.5,247.4C153.6,246.4 150.3,245 148.2,243.4C146.1,241.8 143.2,239.1 143.7,237.6Z" class="ct"/><circle cx="71.6" cy="206.3" r="6.8" fill="#fff" stroke="#222" stroke-width="0.5"/><circle cx="91.9" cy="220.6" r="6.8" fill="#fff" stroke="#222" stroke-width="0.5"/><path d="M197,240.1C197.5,238.9 200.2,237.6 202.1,237.6C203.9,237.6 207,238.9 208.3,240.1C209.7,241.3 210.6,243.5 210.1,244.6C209.5,245.7 206.9,246.6 205.1,246.6C203.2,246.6 200.4,245.7 199.1,244.6C197.7,243.5 196.5,241.3 197,240.1Z" class="ct"/><text x="82.6" y="210.3" class="vl" font-size="8.3">A1-2</text><text x="113.4" y="225.1" class="vl" font-size="8.3">A2-2</text><text x="83.4" y="234.1" class="vl" font-size="8.3">B1-2</text><text x="103.9" y="240.4" class="vl" font-size="8.3">B2-2</text><text x="106.1" y="258.4" class="vl" font-size="8.3">A1-1</text><text x="123.7" y="266.7" class="vl" font-size="8.3">B1-1</text><text x="149.2" y="247.4" class="vl" font-size="8.3">A2-1</text><text x="140.4" y="257.7" class="vl" font-size="8.3">B2-1</text><text x="155" y="283.4" class="vl" font-size="8.3">A1-0</text></g>
<path d="M31.6,171.3V304.4H339.7" fill="none" stroke="#222" stroke-width="1"/><path d="M45,304.4v-2.6M71.7,304.4v-2.6M98.4,304.4v-2.6M125.2,304.4v-2.6M151.9,304.4v-2.6M178.7,304.4v-2.6M205.4,304.4v-2.6M232.1,304.4v-2.6M258.9,304.4v-2.6M285.6,304.4v-2.6M312.4,304.4v-2.6M339.1,304.4v-2.6M31.6,291.1h3M31.6,264.5h3M31.6,237.9h3M31.6,211.2h3M31.6,184.6h3" stroke="#111" stroke-width="0.9" fill="none"/><text x="39.4" y="315.4" class="tk" text-anchor="middle">−2</text><text x="96.3" y="315.4" class="tk" text-anchor="middle">2</text><text x="150.1" y="315.4" class="tk" text-anchor="middle">6</text><text x="203.9" y="315.4" class="tk" text-anchor="middle">10</text><text x="257.7" y="315.4" class="tk" text-anchor="middle">14</text><text x="311.5" y="315.4" class="tk" text-anchor="middle">18</text><text x="30.3" y="295" class="tk" text-anchor="end">−4</text><text x="30.3" y="241.8" class="tk" text-anchor="end">0</text><text x="30.3" y="188.5" class="tk" text-anchor="end">4</text><text x="9.3" y="242.7" class="ax">y</text><text x="173.4" y="326.4" class="ax">x</text><text x="37.4" y="194.1" class="pl">(c)</text>
<g clip-path="url(#cpd)"><rect x="395.4" y="170.4" width="308.1" height="133" fill="#10fa22"/><ellipse cx="616" cy="240.9" rx="139.9" ry="69.3" fill="url(#ghz)"/><ellipse transform="translate(586.8,257.6) rotate(-10)" rx="17.5" ry="8.8" fill="url(#gw)"/><ellipse transform="translate(653.2,212.6) rotate(0)" rx="11.3" ry="10" fill="url(#gw)"/><ellipse transform="translate(705.7,215.1) rotate(0)" rx="10" ry="15" fill="url(#gk)"/><path d="M447.6,198C448.8,197.2 452.4,194.2 455.1,193C457.8,191.9 461.3,191 463.8,191.3C466.4,191.5 469.1,194 470.1,194.5" fill="none" stroke="#20f0f0" stroke-width="1.5" stroke-linecap="round" stroke-linejoin="round" opacity="1" filter="url(#bl0)"/><path d="M465.1,218.8C465.5,217.9 472.2,214.2 475.1,213.8C478,213.4 480.5,214.4 482.6,216.3C484.7,218.2 486,222.6 487.6,225.1C489.3,227.6 491.4,229.3 492.6,231.3C493.9,233.4 495.6,237 495.1,237.6C494.7,238.2 492,236.4 490.1,235.1C488.3,233.8 485.5,232 483.9,230.1C482.2,228.2 482,225.6 480.1,223.8C478.2,222.1 475.1,220.4 472.6,219.6C470.1,218.7 464.7,219.8 465.1,218.8Z" fill="#ffb000" stroke="#f0ff10" stroke-width="2.5" opacity="1" filter="url(#bl1)"/><path d="M465.1,218.8C465.5,217.9 472.2,214.2 475.1,213.8C478,213.4 480.5,214.4 482.6,216.3C484.7,218.2 486,222.6 487.6,225.1C489.3,227.6 491.4,229.3 492.6,231.3C493.9,233.4 495.6,237 495.1,237.6C494.7,238.2 492,236.4 490.1,235.1C488.3,233.8 485.5,232 483.9,230.1C482.2,228.2 482,225.6 480.1,223.8C478.2,222.1 475.1,220.4 472.6,219.6C470.1,218.7 464.7,219.8 465.1,218.8Z" class="ct"/><path d="M477.6,216.8C478.4,217.4 480.9,219.1 482.1,220.6C483.4,222.1 484.6,225 485.1,225.8" fill="none" stroke="#ff2000" stroke-width="2.2" stroke-linecap="round" stroke-linejoin="round" opacity="1" filter="url(#bl0)"/><path d="M460.6,215.1C463.4,214.1 471.9,210.3 477.6,209.1C483.4,207.8 492.2,207.8 495.1,207.6" fill="none" stroke="#20f0f0" stroke-width="1.3" stroke-linecap="round" stroke-linejoin="round" opacity="1" filter="url(#bl0)"/><path d="M516.4,231.3C516.4,229.7 521.6,228 525.2,227.6C528.7,227.2 533.9,227.4 537.7,228.8C541.5,230.3 545.5,233.6 547.7,236.4C549.9,239.1 551.1,243 550.7,245.1C550.3,247.2 547.8,248.9 545.2,248.9C542.6,248.9 538.5,247 535.2,245.1C531.9,243.2 528.3,239.9 525.2,237.6C522.1,235.3 516.4,233 516.4,231.3Z" fill="#10e8ff" stroke="#30ffb0" stroke-width="2" opacity="1" filter="url(#bl1)"/><path d="M516.4,231.3C516.4,229.7 521.6,228 525.2,227.6C528.7,227.2 533.9,227.4 537.7,228.8C541.5,230.3 545.5,233.6 547.7,236.4C549.9,239.1 551.1,243 550.7,245.1C550.3,247.2 547.8,248.9 545.2,248.9C542.6,248.9 538.5,247 535.2,245.1C531.9,243.2 528.3,239.9 525.2,237.6C522.1,235.3 516.4,233 516.4,231.3Z" class="ct"/><path d="M501.4,247.6C501.8,244.9 504.1,241.9 506.4,240.1C508.7,238.4 512,237.1 515.2,237.1C518.3,237.1 522.1,238.4 525.2,240.1C528.3,241.9 530.6,244.9 533.9,247.6C537.3,250.3 541.2,253.9 545.2,256.4C549.2,258.9 554.3,260.7 557.7,262.6C561.2,264.6 565.3,267.1 565.7,268.1C566.2,269.2 563.2,269.6 560.2,268.9C557.2,268.2 551.9,265.8 547.7,263.9C543.5,262 538.7,259.5 535.2,257.6C531.7,255.8 528.5,252.5 526.4,252.6C524.3,252.7 524.1,256.4 522.7,258.1C521.2,259.9 519.8,262.4 517.7,263.1C515.6,263.9 512.5,263.8 510.2,262.6C507.9,261.5 505.4,258.9 503.9,256.4C502.4,253.9 501,250.3 501.4,247.6Z" fill="#ffe800" stroke="#c0ff10" stroke-width="2.5" opacity="1" filter="url(#bl1)"/><path d="M501.4,247.6C501.8,244.9 504.1,241.9 506.4,240.1C508.7,238.4 512,237.1 515.2,237.1C518.3,237.1 522.1,238.4 525.2,240.1C528.3,241.9 530.6,244.9 533.9,247.6C537.3,250.3 541.2,253.9 545.2,256.4C549.2,258.9 554.3,260.7 557.7,262.6C561.2,264.6 565.3,267.1 565.7,268.1C566.2,269.2 563.2,269.6 560.2,268.9C557.2,268.2 551.9,265.8 547.7,263.9C543.5,262 538.7,259.5 535.2,257.6C531.7,255.8 528.5,252.5 526.4,252.6C524.3,252.7 524.1,256.4 522.7,258.1C521.2,259.9 519.8,262.4 517.7,263.1C515.6,263.9 512.5,263.8 510.2,262.6C507.9,261.5 505.4,258.9 503.9,256.4C502.4,253.9 501,250.3 501.4,247.6Z" class="ct"/><path d="M507.7,246.4C509.1,245.7 513.5,242.2 516.4,242.1C519.3,242 521.8,243.8 525.2,245.6C528.5,247.4 532.7,250.7 536.4,253.1C540.2,255.5 545.8,259 547.7,260.1" fill="none" stroke="#ff9800" stroke-width="5" stroke-linecap="round" stroke-linejoin="round" opacity="1" filter="url(#bl1)"/><g transform="translate(513.9,255.1) rotate(0)"><ellipse rx="6.1" ry="5.8" fill="url(#gR)"/><ellipse rx="5.2" ry="5" class="ct"/></g><path d="M500.1,255.1C500.6,255 502.4,257.4 503.9,258.9C505.4,260.3 508.7,263.2 508.9,263.9C509.1,264.6 506.4,263.8 505.2,263.1C503.9,262.4 502.2,261 501.4,259.6C500.6,258.3 499.7,255.3 500.1,255.1Z" fill="#20f0f0" opacity="1" filter="url(#bl0)"/><path d="M500.1,255.1C500.6,255 502.4,257.4 503.9,258.9C505.4,260.3 508.7,263.2 508.9,263.9C509.1,264.6 506.4,263.8 505.2,263.1C503.9,262.4 502.2,261 501.4,259.6C500.6,258.3 499.7,255.3 500.1,255.1Z" class="ct"/><g transform="translate(555.2,274.4) rotate(20)"><ellipse rx="9.5" ry="7" fill="url(#gc)"/><ellipse rx="6.8" ry="5" class="ct"/><ellipse rx="3" ry="2.3" class="ct"/></g><g transform="translate(588.1,240.9) rotate(5)"><ellipse rx="20" ry="13.1" fill="url(#gR2)"/><ellipse rx="13.8" ry="9" class="ct"/><ellipse rx="9" ry="5.9" class="ct"/><ellipse rx="4.1" ry="2.7" class="ct"/></g><g transform="translate(615.1,206.8) rotate(5)"><ellipse rx="25.4" ry="17.4" fill="url(#gb)"/><ellipse rx="17.5" ry="12" class="ct"/><ellipse rx="10.9" ry="7.5" class="ct"/></g><g transform="translate(608.1,224.3) rotate(17)"><ellipse rx="27" ry="6.4" fill="url(#gv)"/><ellipse rx="18" ry="4.3" class="ct"/></g><g transform="translate(653.9,213.8) rotate(0)"><ellipse rx="1.5" ry="1.5" fill="url(#gw)"/><ellipse rx="1.5" ry="1.5" class="ct"/></g><g transform="translate(659.4,240.9) rotate(0)"><ellipse rx="11.6" ry="16.3" fill="url(#gc)"/><ellipse rx="8" ry="11.3" class="ct"/></g><g transform="translate(690.2,243.4) rotate(0)"><ellipse rx="17.4" ry="20" fill="url(#gy)"/><ellipse rx="12" ry="13.8" class="ct"/><ellipse rx="2.6" ry="3" class="ct"/></g><path d="M428.4,215C427.9,214.5 430,211 431.6,209.7C433.2,208.3 435.8,207.4 437.9,206.9C440,206.5 442.7,207.3 444.3,206.9C445.8,206.6 446.6,204.8 447.4,204.6C448.2,204.5 449.4,205.1 449.1,206.1C448.8,207 447.1,209.1 445.7,210.3C444.4,211.6 442.9,213.3 441.1,213.7C439.3,214 436.9,212.2 434.8,212.4C432.7,212.6 429,215.4 428.4,215Z" fill="#00e0ff" stroke="#00e0ff" stroke-width="0.8" filter="url(#bl1)"/><path d="M428.4,215C427.9,214.5 430,211 431.6,209.7C433.2,208.3 435.8,207.4 437.9,206.9C440,206.5 442.7,207.3 444.3,206.9C445.8,206.6 446.6,204.8 447.4,204.6C448.2,204.5 449.4,205.1 449.1,206.1C448.8,207 447.1,209.1 445.7,210.3C444.4,211.6 442.9,213.3 441.1,213.7C439.3,214 436.9,212.2 434.8,212.4C432.7,212.6 429,215.4 428.4,215Z" fill="#0818e8" filter="url(#bl0)"/><path d="M440.7,211.4C441.6,210.1 443.7,209.4 445.3,208.2C447,207 448.8,205.5 450.6,204C452.3,202.5 454.6,199.7 455.9,199.1C457.1,198.6 458.5,199.7 458.2,200.8C457.8,201.9 455.3,204.3 453.8,205.9C452.2,207.5 450.3,208.7 448.7,210.5C447,212.3 445.1,214.7 443.8,216.6C442.6,218.6 442.1,221.4 441.3,222.1C440.5,222.8 439.4,222 439.2,220.9C439,219.8 439.8,217.2 440,215.6C440.3,214 439.8,212.6 440.7,211.4Z" fill="#ffe000" stroke="#ffe000" stroke-width="1" filter="url(#bl1)"/><path d="M440.7,211.4C441.6,210.1 443.7,209.4 445.3,208.2C447,207 448.8,205.5 450.6,204C452.3,202.5 454.6,199.7 455.9,199.1C457.1,198.6 458.5,199.7 458.2,200.8C457.8,201.9 455.3,204.3 453.8,205.9C452.2,207.5 450.3,208.7 448.7,210.5C447,212.3 445.1,214.7 443.8,216.6C442.6,218.6 442.1,221.4 441.3,222.1C440.5,222.8 439.4,222 439.2,220.9C439,219.8 439.8,217.2 440,215.6C440.3,214 439.8,212.6 440.7,211.4Z" fill="#fb0a00" filter="url(#bl0)"/><path d="M456.3,196.3C457.1,194.9 460.5,193.2 462.6,193C464.7,192.8 467.6,193.5 468.9,195C470.1,196.6 470.5,200 470.1,202.6C469.7,205.1 467.8,208 466.4,210.1C464.9,212.1 462.8,213.6 461.3,215.1C459.9,216.5 458.6,217.5 457.6,218.8C456.5,220.2 456,222.5 455.1,223.1C454.2,223.6 452.1,223.4 452.1,222.1C452.1,220.7 454,217.5 455.1,215.1C456.2,212.7 458.3,209.9 458.8,207.6C459.3,205.3 458.5,203.2 458.1,201.3C457.7,199.4 455.6,197.7 456.3,196.3Z" fill="#00e0ff" stroke="#00e0ff" stroke-width="1.5" filter="url(#bl1)"/><path d="M456.3,196.3C457.1,194.9 460.5,193.2 462.6,193C464.7,192.8 467.6,193.5 468.9,195C470.1,196.6 470.5,200 470.1,202.6C469.7,205.1 467.8,208 466.4,210.1C464.9,212.1 462.8,213.6 461.3,215.1C459.9,216.5 458.6,217.5 457.6,218.8C456.5,220.2 456,222.5 455.1,223.1C454.2,223.6 452.1,223.4 452.1,222.1C452.1,220.7 454,217.5 455.1,215.1C456.2,212.7 458.3,209.9 458.8,207.6C459.3,205.3 458.5,203.2 458.1,201.3C457.7,199.4 455.6,197.7 456.3,196.3Z" fill="#0818e8" filter="url(#bl0)"/><path d="M461.3,225.1C462.2,223.1 466.4,221.2 468.9,220.6C471.4,220 474.5,220.4 476.4,221.3C478.2,222.3 479.9,224.5 480.1,226.3C480.3,228.1 479.3,231.4 477.6,232.1C475.9,232.8 472.4,230.5 470.1,230.6C467.8,230.7 465.3,233.5 463.8,232.6C462.4,231.7 460.5,227.1 461.3,225.1Z" fill="#ffe000" stroke="#ffe000" stroke-width="1.5" filter="url(#bl1)"/><path d="M461.3,225.1C462.2,223.1 466.4,221.2 468.9,220.6C471.4,220 474.5,220.4 476.4,221.3C478.2,222.3 479.9,224.5 480.1,226.3C480.3,228.1 479.3,231.4 477.6,232.1C475.9,232.8 472.4,230.5 470.1,230.6C467.8,230.7 465.3,233.5 463.8,232.6C462.4,231.7 460.5,227.1 461.3,225.1Z" fill="#fb0a00" filter="url(#bl0)"/><path d="M486.4,211.3C487.5,209.9 491.4,208.6 493.9,208.8C496.4,209 499.5,210.7 501.4,212.6C503.3,214.4 504.9,217.8 505.2,220.1C505.4,222.4 504.4,225.1 503.2,226.3C501.9,227.6 499.6,228 497.6,227.6C495.7,227.2 493.1,225.5 491.4,223.8C489.6,222.2 488,219.7 487.1,217.6C486.3,215.5 485.3,212.8 486.4,211.3Z" fill="#00e0ff" stroke="#00e0ff" stroke-width="2.2" filter="url(#bl1)"/><path d="M486.4,211.3C487.5,209.9 491.4,208.6 493.9,208.8C496.4,209 499.5,210.7 501.4,212.6C503.3,214.4 504.9,217.8 505.2,220.1C505.4,222.4 504.4,225.1 503.2,226.3C501.9,227.6 499.6,228 497.6,227.6C495.7,227.2 493.1,225.5 491.4,223.8C489.6,222.2 488,219.7 487.1,217.6C486.3,215.5 485.3,212.8 486.4,211.3Z" fill="#0818e8" filter="url(#bl0)"/><path d="M526.4,233.1C526.6,231.7 529.9,230.5 532.2,230.6C534.5,230.7 538,232.3 540.2,233.8C542.4,235.4 544.5,238.3 545.2,240.1C546,241.9 545.8,244.1 544.7,244.6C543.7,245.1 541.2,244.1 539,243.1C536.7,242.2 533.5,240.5 531.4,238.9C529.4,237.2 526.3,234.5 526.4,233.1Z" fill="#0818e8" filter="url(#bl0)"/><path d="M526.4,233.1C526.6,231.7 529.9,230.5 532.2,230.6C534.5,230.7 538,232.3 540.2,233.8C542.4,235.4 544.5,238.3 545.2,240.1C546,241.9 545.8,244.1 544.7,244.6C543.7,245.1 541.2,244.1 539,243.1C536.7,242.2 533.5,240.5 531.4,238.9C529.4,237.2 526.3,234.5 526.4,233.1Z" class="ct"/><path d="M509.7,253.1C510.3,252 512.5,251.1 513.9,251.1C515.3,251.1 517.4,252.1 518.2,253.1C519,254.1 519.3,256 518.7,257.1C518.1,258.2 516.1,259.5 514.7,259.6C513.2,259.8 511,259.2 510.2,258.1C509.3,257 509,254.3 509.7,253.1Z" fill="#fb0a00" filter="url(#bl0)"/><circle cx="435.1" cy="218.1" r="6.8" fill="#fff" stroke="#222" stroke-width="0.5"/><circle cx="455.1" cy="229.3" r="6.8" fill="#fff" stroke="#222" stroke-width="0.5"/><text x="440.3" y="202.6" class="vl" font-size="8.3">B1-3</text><text x="462.1" y="204.8" class="vl" font-size="8.3">A1-2</text><text x="491.1" y="221.6" class="vl" font-size="8.3">A2-2</text></g>
<path d="M395.4,170.4V303.4H703.5" fill="none" stroke="#222" stroke-width="1"/><path d="M408.8,303.4v-2.6M435.5,303.4v-2.6M462.2,303.4v-2.6M489,303.4v-2.6M515.7,303.4v-2.6M542.5,303.4v-2.6M569.2,303.4v-2.6M595.9,303.4v-2.6M622.7,303.4v-2.6M649.4,303.4v-2.6M676.2,303.4v-2.6M702.9,303.4v-2.6M395.4,290.1h3M395.4,263.5h3M395.4,236.9h3M395.4,210.3h3M395.4,183.7h3" stroke="#111" stroke-width="0.9" fill="none"/><text x="405" y="314.4" class="tk" text-anchor="middle">−2</text><text x="461.9" y="314.4" class="tk" text-anchor="middle">2</text><text x="515.7" y="314.4" class="tk" text-anchor="middle">6</text><text x="569.5" y="314.4" class="tk" text-anchor="middle">10</text><text x="623.3" y="314.4" class="tk" text-anchor="middle">14</text><text x="677.1" y="314.4" class="tk" text-anchor="middle">18</text><text x="394.1" y="294" class="tk" text-anchor="end">−4</text><text x="394.1" y="240.8" class="tk" text-anchor="end">0</text><text x="394.1" y="187.6" class="tk" text-anchor="end">4</text><text x="373.1" y="241.7" class="ax">y</text><text x="538.6" y="325.4" class="ax">x</text><text x="404.8" y="193.2" class="pl">(d)</text>
<g clip-path="url(#cpe)"><rect x="31.6" y="343.9" width="307.2" height="133.1" fill="#10fa22"/><ellipse cx="251.5" cy="414.4" rx="139.9" ry="69.3" fill="url(#ghz)"/><ellipse transform="translate(340,418.1) rotate(0)" rx="6.3" ry="7.5" fill="url(#gw)"/><ellipse transform="translate(212.1,430.6) rotate(15)" rx="22.5" ry="7" fill="url(#gw)"/><ellipse transform="translate(244.6,435.6) rotate(-30)" rx="15" ry="10" fill="url(#gw)"/><ellipse transform="translate(314.7,385.6) rotate(0)" rx="12.5" ry="7.5" fill="url(#gw)"/><path d="M98.9,377.1C99.9,375.5 104.5,371.2 107.7,368.8C110.8,366.5 115.1,363.9 117.7,363.1C120.3,362.2 123.2,363.1 123.2,363.8C123.2,364.6 120,366 117.7,367.6C115.3,369.1 111.6,371.3 108.9,373.1C106.2,374.8 103.1,377.4 101.4,378.1C99.7,378.7 97.8,378.6 98.9,377.1Z" fill="#ffe000" stroke="#d0ff10" stroke-width="1.5" opacity="1" filter="url(#bl0)"/><path d="M105.1,372.6C106.4,371.7 110.4,368.9 112.7,367.6C115,366.2 117.9,365.1 118.9,364.6" fill="none" stroke="#ff9000" stroke-width="1.6" stroke-linecap="round" stroke-linejoin="round" opacity="1" filter="url(#bl0)"/><g transform="translate(116.4,376.3) rotate(-30)"><ellipse rx="15.8" ry="10.4" fill="url(#gc)"/></g><g transform="translate(116.4,376.3) rotate(-30)"><ellipse rx="12.5" ry="7.8" fill="url(#gB)"/><ellipse rx="12.3" ry="7.6" class="ct"/></g><path d="M104.6,403.1C104.1,401.4 107.2,395.8 109.7,392.6C112.2,389.4 116.2,385.5 119.7,383.8C123.1,382.2 127.9,381.8 130.2,382.6C132.4,383.4 133.4,386.8 133.2,388.8C133,390.9 131.1,393.4 128.9,395.1C126.8,396.8 122.9,397.9 120.2,399.1C117.5,400.4 115.2,401.9 112.7,402.6C110.1,403.3 105.1,404.8 104.6,403.1Z" fill="#ffd800" stroke="#c8ff10" stroke-width="2.5" opacity="1" filter="url(#bl1)"/><path d="M104.6,403.1C104.1,401.4 107.2,395.8 109.7,392.6C112.2,389.4 116.2,385.5 119.7,383.8C123.1,382.2 127.9,381.8 130.2,382.6C132.4,383.4 133.4,386.8 133.2,388.8C133,390.9 131.1,393.4 128.9,395.1C126.8,396.8 122.9,397.9 120.2,399.1C117.5,400.4 115.2,401.9 112.7,402.6C110.1,403.3 105.1,404.8 104.6,403.1Z" class="ct"/><path d="M111.4,398.1C112.9,397.2 117.2,394.4 120.2,392.6C123.1,390.8 127.5,388.4 128.9,387.6" fill="none" stroke="#ff9000" stroke-width="4" stroke-linecap="round" stroke-linejoin="round" opacity="1" filter="url(#bl1)"/><g transform="translate(146.5,388.1) rotate(0)"><ellipse rx="15" ry="15" fill="url(#gB)"/><ellipse rx="11.5" ry="11.5" class="ct"/><ellipse rx="9.9" ry="9.9" class="ct"/></g><path d="M159.5,410.6C161.6,407.3 168.5,409.6 172,410.6C175.6,411.6 178.6,415 180.8,416.9C182.9,418.7 185,419.6 185,421.9C185,424.2 182.5,428.3 180.8,430.6C179,433 176.8,435.5 174.5,436.1C172.2,436.8 169.5,435.3 167,434.4C164.5,433.5 160.7,434.6 159.5,430.6C158.2,426.7 157.4,413.9 159.5,410.6Z" fill="#ffe000" stroke="#c8ff10" stroke-width="2.5" opacity="1" filter="url(#bl1)"/><path d="M159.5,410.6C161.6,407.3 168.5,409.6 172,410.6C175.6,411.6 178.6,415 180.8,416.9C182.9,418.7 185,419.6 185,421.9C185,424.2 182.5,428.3 180.8,430.6C179,433 176.8,435.5 174.5,436.1C172.2,436.8 169.5,435.3 167,434.4C164.5,433.5 160.7,434.6 159.5,430.6C158.2,426.7 157.4,413.9 159.5,410.6Z" class="ct"/><g transform="translate(170.8,423.1) rotate(30)"><ellipse rx="12" ry="10" fill="url(#go)"/><ellipse rx="10.2" ry="8.5" class="ct"/></g><g transform="translate(172.5,426.9) rotate(0)"><ellipse rx="8.5" ry="8" fill="url(#gR)"/></g><g transform="translate(188.3,409.4) rotate(35)"><ellipse rx="23.6" ry="12" fill="url(#gc2)"/><ellipse rx="16.3" ry="8.3" class="ct"/><ellipse rx="9.4" ry="4.8" class="ct"/></g><g transform="translate(244.6,413.6) rotate(-10)"><ellipse rx="20" ry="13.4" fill="url(#go)"/><ellipse rx="13.8" ry="9.3" class="ct"/><ellipse rx="8.3" ry="5.6" class="ct"/></g><g transform="translate(270.9,378.1) rotate(15)"><ellipse rx="27.2" ry="16.3" fill="url(#gc2)"/><ellipse rx="18.8" ry="11.3" class="ct"/><ellipse rx="8.8" ry="5.3" class="ct"/></g><g transform="translate(255.1,393.1) rotate(12)"><ellipse rx="18" ry="4.8" fill="url(#gw)"/><ellipse rx="11.3" ry="3" class="ct"/></g><g transform="translate(215.1,448.2) rotate(30)"><ellipse rx="9.8" ry="6" fill="url(#gc)"/><ellipse rx="7" ry="4.3" class="ct"/></g><g transform="translate(317.2,415.6) rotate(0)"><ellipse rx="11.2" ry="14" fill="url(#gc)"/><ellipse rx="8" ry="10" class="ct"/></g><path d="M65.2,406C65.1,404.8 67.4,399.5 69.4,397.1C71.4,394.8 75,392.5 77.4,391.9C79.8,391.2 82.5,392.3 83.8,393.3C85.1,394.4 85.9,396.6 85.2,398C84.6,399.3 81.6,400 80,401.4C78.3,402.7 77,405.5 75.3,406C73.7,406.5 71.7,404.3 70,404.3C68.4,404.3 65.3,407.2 65.2,406Z" fill="#00e0ff" stroke="#00e0ff" stroke-width="1" filter="url(#bl1)"/><path d="M65.2,406C65.1,404.8 67.4,399.5 69.4,397.1C71.4,394.8 75,392.5 77.4,391.9C79.8,391.2 82.5,392.3 83.8,393.3C85.1,394.4 85.9,396.6 85.2,398C84.6,399.3 81.6,400 80,401.4C78.3,402.7 77,405.5 75.3,406C73.7,406.5 71.7,404.3 70,404.3C68.4,404.3 65.3,407.2 65.2,406Z" fill="#0818e8" filter="url(#bl0)"/><path d="M75.7,402.6C76.6,401.2 79.6,400.9 81.6,400.1C83.7,399.3 86,399.2 88,397.8C89.9,396.4 91.7,394.1 93.2,391.6C94.8,389.2 96.2,384.2 97.3,383C98.3,381.8 99.7,382.7 99.8,384.3C99.9,385.8 99.1,389.5 97.9,392.1C96.7,394.6 94.9,397.7 92.6,399.5C90.3,401.2 85.9,400.9 84.2,402.6C82.4,404.3 83.1,407.9 82.1,409.8C81,411.7 78.8,414.2 77.8,414C76.9,413.8 76.7,410.4 76.4,408.5C76,406.6 74.9,404 75.7,402.6Z" fill="#ffe000" stroke="#ffe000" stroke-width="1" filter="url(#bl1)"/><path d="M75.7,402.6C76.6,401.2 79.6,400.9 81.6,400.1C83.7,399.3 86,399.2 88,397.8C89.9,396.4 91.7,394.1 93.2,391.6C94.8,389.2 96.2,384.2 97.3,383C98.3,381.8 99.7,382.7 99.8,384.3C99.9,385.8 99.1,389.5 97.9,392.1C96.7,394.6 94.9,397.7 92.6,399.5C90.3,401.2 85.9,400.9 84.2,402.6C82.4,404.3 83.1,407.9 82.1,409.8C81,411.7 78.8,414.2 77.8,414C76.9,413.8 76.7,410.4 76.4,408.5C76,406.6 74.9,404 75.7,402.6Z" fill="#fb0a00" filter="url(#bl0)"/><path d="M84.4,421.6C83.5,420.3 86.5,415.6 88,412.7C89.5,409.9 91.3,406.8 93.2,404.3C95.2,401.8 97.7,400.1 99.6,398C101.4,395.8 103,392.5 104.2,391.4C105.5,390.4 106.8,390.5 107.2,391.6C107.6,392.8 107.5,396.4 106.8,398.4C106,400.4 104.1,401.9 103,403.5C101.8,405 100.8,405.7 99.8,407.7C98.8,409.6 98.1,413.1 97,415.3C96,417.4 95.6,419.5 93.5,420.5C91.4,421.6 85.3,422.9 84.4,421.6Z" fill="#00e0ff" stroke="#00e0ff" stroke-width="1.2" filter="url(#bl1)"/><path d="M84.4,421.6C83.5,420.3 86.5,415.6 88,412.7C89.5,409.9 91.3,406.8 93.2,404.3C95.2,401.8 97.7,400.1 99.6,398C101.4,395.8 103,392.5 104.2,391.4C105.5,390.4 106.8,390.5 107.2,391.6C107.6,392.8 107.5,396.4 106.8,398.4C106,400.4 104.1,401.9 103,403.5C101.8,405 100.8,405.7 99.8,407.7C98.8,409.6 98.1,413.1 97,415.3C96,417.4 95.6,419.5 93.5,420.5C91.4,421.6 85.3,422.9 84.4,421.6Z" fill="#0818e8" filter="url(#bl0)"/><path d="M98.5,423.7C97.7,421.9 96.9,417.5 97.3,414.9C97.6,412.3 99.3,409.5 100.6,408.1C102,406.7 104,406 105.3,406.6C106.5,407.2 107.9,409.5 108.2,411.7C108.5,413.8 108.2,417.1 107.2,419.5C106.1,421.8 103.3,425.1 101.9,425.8C100.5,426.5 99.3,425.5 98.5,423.7Z" fill="#ffe000" stroke="#ffe000" stroke-width="1.5" filter="url(#bl1)"/><path d="M98.5,423.7C97.7,421.9 96.9,417.5 97.3,414.9C97.6,412.3 99.3,409.5 100.6,408.1C102,406.7 104,406 105.3,406.6C106.5,407.2 107.9,409.5 108.2,411.7C108.5,413.8 108.2,417.1 107.2,419.5C106.1,421.8 103.3,425.1 101.9,425.8C100.5,426.5 99.3,425.5 98.5,423.7Z" fill="#fb0a00" filter="url(#bl0)"/><path d="M105.6,381.3C106,379.2 107.4,375.5 109.7,373.3C111.9,371.1 116,368.7 118.9,368.1C121.8,367.4 125.6,368.2 127.2,369.3C128.8,370.4 129.3,372.7 128.7,374.6C128,376.5 125.6,378.8 123.2,380.6C120.7,382.4 116.5,384.5 113.9,385.3C111.3,386.2 109,386.5 107.7,385.8C106.3,385.2 105.3,383.4 105.6,381.3Z" fill="#0818e8" filter="url(#bl0)"/><path d="M113.2,394.6C113.7,393 115.7,390.2 117.7,388.8C119.7,387.5 123.3,386.3 125.2,386.3C127.1,386.3 128.8,387.6 129.2,388.8C129.5,390.1 128.6,392.6 127.2,394.1C125.8,395.6 122.8,396.9 120.7,397.6C118.6,398.4 115.9,399.1 114.7,398.6C113.4,398.1 112.7,396.2 113.2,394.6Z" fill="#fb0a00" filter="url(#bl0)"/><path d="M113.2,394.6C113.7,393 115.7,390.2 117.7,388.8C119.7,387.5 123.3,386.3 125.2,386.3C127.1,386.3 128.8,387.6 129.2,388.8C129.5,390.1 128.6,392.6 127.2,394.1C125.8,395.6 122.8,396.9 120.7,397.6C118.6,398.4 115.9,399.1 114.7,398.6C113.4,398.1 112.7,396.2 113.2,394.6Z" class="ct"/><path d="M137.7,385.6C138.2,383.7 139.6,381.1 141.4,380.1C143.3,379.1 146.7,378.8 149,379.6C151.2,380.3 153.7,382.6 154.7,384.6C155.8,386.6 156,389.4 155.2,391.4C154.5,393.3 152.3,395.6 150.2,396.4C148.1,397.1 144.7,396.4 142.7,395.6C140.7,394.8 139,393 138.2,391.4C137.4,389.7 137.2,387.5 137.7,385.6Z" fill="#0818e8" filter="url(#bl0)"/><circle cx="70.8" cy="410.6" r="6.8" fill="#fff" stroke="#222" stroke-width="0.5"/><circle cx="90.9" cy="424.6" r="6.8" fill="#fff" stroke="#222" stroke-width="0.5"/><text x="100.9" y="367.1" class="vl" font-size="8.3">B1-3</text><text x="114.7" y="377.8" class="vl" font-size="8.3">A1-2</text><text x="82.4" y="389.6" class="vl" font-size="8.3">B1-3</text><text x="111.9" y="397.1" class="vl" font-size="8.3">B2-3</text><text x="143.2" y="389.1" class="vl" font-size="8.3">A2-2</text></g>
<path d="M31.6,343.9V477H338.8" fill="none" stroke="#222" stroke-width="1"/><path d="M44.9,477v-2.6M71.6,477v-2.6M98.2,477v-2.6M124.9,477v-2.6M151.6,477v-2.6M178.2,477v-2.6M204.9,477v-2.6M231.5,477v-2.6M258.2,477v-2.6M284.9,477v-2.6M311.5,477v-2.6M338.2,477v-2.6M31.6,463.7h3M31.6,437.1h3M31.6,410.4h3M31.6,383.8h3M31.6,357.2h3" stroke="#111" stroke-width="0.9" fill="none"/><text x="41" y="487.8" class="tk" text-anchor="middle">−2</text><text x="97.8" y="487.8" class="tk" text-anchor="middle">2</text><text x="151.5" y="487.8" class="tk" text-anchor="middle">6</text><text x="205.1" y="487.8" class="tk" text-anchor="middle">10</text><text x="258.7" y="487.8" class="tk" text-anchor="middle">14</text><text x="312.3" y="487.8" class="tk" text-anchor="middle">18</text><text x="30.3" y="467.6" class="tk" text-anchor="end">−4</text><text x="30.3" y="414.3" class="tk" text-anchor="end">0</text><text x="30.3" y="361.1" class="tk" text-anchor="end">4</text><text x="9.3" y="415.2" class="ax">y</text><text x="174.8" y="499" class="ax">x</text><text x="37.4" y="367.7" class="pl">(e)</text>
<g clip-path="url(#cpf)"><rect x="395.4" y="343.3" width="307.9" height="133" fill="#10fa22"/><ellipse cx="615.8" cy="413.8" rx="139.9" ry="69.3" fill="url(#ghz)"/><ellipse transform="translate(595.6,430.6) rotate(-15)" rx="22.5" ry="7.5" fill="url(#gw)"/><ellipse transform="translate(683.2,390.6) rotate(-10)" rx="20" ry="7.5" fill="url(#gw)"/><path d="M481.4,382.6C481.8,380.2 484.5,375.7 487.6,373C490.8,370.4 496,368 500.1,366.8C504.3,365.6 509.5,365.2 512.7,366C515.9,366.9 519.4,369.9 519.4,371.8C519.4,373.7 515.5,376 512.7,377.3C509.9,378.6 506,378.9 502.7,379.8C499.3,380.7 495.6,381.3 492.6,382.6C489.7,383.8 487,387.3 485.1,387.3C483.2,387.3 481,384.9 481.4,382.6Z" fill="#10e8ff" stroke="#30ffb0" stroke-width="2" opacity="1" filter="url(#bl1)"/><path d="M481.4,382.6C481.8,380.2 484.5,375.7 487.6,373C490.8,370.4 496,368 500.1,366.8C504.3,365.6 509.5,365.2 512.7,366C515.9,366.9 519.4,369.9 519.4,371.8C519.4,373.7 515.5,376 512.7,377.3C509.9,378.6 506,378.9 502.7,379.8C499.3,380.7 495.6,381.3 492.6,382.6C489.7,383.8 487,387.3 485.1,387.3C483.2,387.3 481,384.9 481.4,382.6Z" class="ct"/><path d="M493.9,364.3C494.9,363.6 499.5,362.3 502.7,361.8C505.8,361.2 510.9,360.7 512.7,361C514.4,361.3 514.4,362.9 513.2,363.5C511.9,364.2 508,364.6 505.2,365C502.4,365.5 498.3,366.2 496.4,366C494.5,365.9 492.8,365 493.9,364.3Z" fill="#ffe800" opacity="1" filter="url(#bl0)"/><path d="M493.9,364.3C494.9,363.6 499.5,362.3 502.7,361.8C505.8,361.2 510.9,360.7 512.7,361C514.4,361.3 514.4,362.9 513.2,363.5C511.9,364.2 508,364.6 505.2,365C502.4,365.5 498.3,366.2 496.4,366C494.5,365.9 492.8,365 493.9,364.3Z" class="ct"/><path d="M468.6,406.6C468.4,404.1 470.4,398.4 471.4,394.3C472.4,390.2 473.4,383.2 474.6,382.1C475.8,380.9 477.7,384.9 478.6,387.6C479.6,390.2 480.5,395 480.4,398.1C480.2,401.2 478.9,404.2 477.6,406.1C476.3,408 474.1,409.5 472.6,409.6C471.1,409.7 468.8,409.1 468.6,406.6Z" fill="#ffe800" stroke="#c8ff10" stroke-width="2" opacity="1" filter="url(#bl1)"/><path d="M468.6,406.6C468.4,404.1 470.4,398.4 471.4,394.3C472.4,390.2 473.4,383.2 474.6,382.1C475.8,380.9 477.7,384.9 478.6,387.6C479.6,390.2 480.5,395 480.4,398.1C480.2,401.2 478.9,404.2 477.6,406.1C476.3,408 474.1,409.5 472.6,409.6C471.1,409.7 468.8,409.1 468.6,406.6Z" class="ct"/><g transform="translate(475.1,396.8) rotate(5)"><ellipse rx="2.8" ry="7.5" fill="url(#gR)"/></g><path d="M486.4,406.1C485.5,403.5 486.2,395.7 487.6,391.8C489.1,388 492.4,384.3 495.1,383.1C497.9,381.8 501.9,382.9 503.9,384.3C505.9,385.8 507.3,389.1 506.9,391.8C506.5,394.5 503.8,398 501.4,400.6C499,403.2 495.1,406.4 492.6,407.3C490.1,408.3 487.2,408.7 486.4,406.1Z" fill="#ffe800" stroke="#c8ff10" stroke-width="2" opacity="1" filter="url(#bl1)"/><path d="M486.4,406.1C485.5,403.5 486.2,395.7 487.6,391.8C489.1,388 492.4,384.3 495.1,383.1C497.9,381.8 501.9,382.9 503.9,384.3C505.9,385.8 507.3,389.1 506.9,391.8C506.5,394.5 503.8,398 501.4,400.6C499,403.2 495.1,406.4 492.6,407.3C490.1,408.3 487.2,408.7 486.4,406.1Z" class="ct"/><g transform="translate(495.9,393.6) rotate(15)"><ellipse rx="6" ry="10.5" fill="url(#gR)"/><ellipse rx="4.8" ry="8.4" class="ct"/></g><g transform="translate(526.4,388.1) rotate(0)"><ellipse rx="15.6" ry="13.7" fill="url(#gB)"/><ellipse rx="12" ry="10.5" class="ct"/><ellipse rx="10.6" ry="9.3" class="ct"/></g><g transform="translate(551.5,421.9) rotate(25)"><ellipse rx="24.5" ry="14.7" fill="url(#go)"/><ellipse rx="17.5" ry="10.5" class="ct"/><ellipse rx="10.9" ry="6.5" class="ct"/></g><g transform="translate(568.8,408.1) rotate(35)"><ellipse rx="22.8" ry="10.5" fill="url(#gc)"/><ellipse rx="16.3" ry="7.5" class="ct"/><ellipse rx="4.9" ry="2.3" class="ct"/></g><g transform="translate(629.4,413.1) rotate(-30)"><ellipse rx="20" ry="13.8" fill="url(#go)"/><ellipse rx="13.8" ry="9.5" class="ct"/><ellipse rx="6.9" ry="4.8" class="ct"/></g><g transform="translate(653.7,377.6) rotate(20)"><ellipse rx="26.3" ry="14.7" fill="url(#gc)"/><ellipse rx="18.8" ry="10.5" class="ct"/><ellipse rx="3.2" ry="1.8" class="ct"/></g><g transform="translate(631.1,391.1) rotate(-5)"><ellipse rx="10.2" ry="4.7" fill="url(#gw)"/><ellipse rx="6" ry="2.8" class="ct"/></g><g transform="translate(601.3,448.9) rotate(30)"><ellipse rx="8.8" ry="5.6" fill="url(#gk)"/><ellipse rx="5.5" ry="3.5" class="ct"/></g><g transform="translate(706.2,418.1) rotate(0)"><ellipse rx="13.3" ry="14" fill="url(#gc)"/><ellipse rx="9.5" ry="10" class="ct"/></g><path d="M429.5,422.9C429.5,422.3 432.8,419.7 434.8,418.3C436.7,416.9 439.9,417.1 441.1,414.7C442.3,412.3 440.7,407.2 441.7,403.9C442.7,400.7 444.5,396.9 447,395.1C449.5,393.2 454.2,392.3 456.9,392.8C459.7,393.3 462.2,395.9 463.5,398C464.7,400.2 464.9,404.1 464.3,405.6C463.7,407.1 461.4,407.8 460.1,407.1C458.8,406.4 458.1,402.7 456.7,401.6C455.3,400.5 453.2,399.7 451.6,400.4C450.1,401 448.1,403.5 447.6,405.6C447.1,407.8 449,411 448.7,413.2C448.3,415.4 446.9,417.1 445.5,418.7C444.1,420.3 442,422.4 440.3,422.9C438.5,423.5 436.6,422.1 434.8,422.1C433,422.1 429.5,423.6 429.5,422.9Z" fill="#00e0ff" stroke="#00e0ff" stroke-width="1.2" filter="url(#bl1)"/><path d="M429.5,422.9C429.5,422.3 432.8,419.7 434.8,418.3C436.7,416.9 439.9,417.1 441.1,414.7C442.3,412.3 440.7,407.2 441.7,403.9C442.7,400.7 444.5,396.9 447,395.1C449.5,393.2 454.2,392.3 456.9,392.8C459.7,393.3 462.2,395.9 463.5,398C464.7,400.2 464.9,404.1 464.3,405.6C463.7,407.1 461.4,407.8 460.1,407.1C458.8,406.4 458.1,402.7 456.7,401.6C455.3,400.5 453.2,399.7 451.6,400.4C450.1,401 448.1,403.5 447.6,405.6C447.1,407.8 449,411 448.7,413.2C448.3,415.4 446.9,417.1 445.5,418.7C444.1,420.3 442,422.4 440.3,422.9C438.5,423.5 436.6,422.1 434.8,422.1C433,422.1 429.5,423.6 429.5,422.9Z" fill="#0818e8" filter="url(#bl0)"/><path d="M441.3,424.4C441.3,421.8 442.6,415.7 443.8,413.1C445.1,410.5 447.2,409 448.8,408.6C450.5,408.2 453.1,409 453.8,410.6C454.5,412.2 453.9,415.8 453.1,418.1C452.2,420.4 450.4,422.6 448.8,424.4C447.3,426.1 445.1,428.6 443.8,428.6C442.6,428.6 441.3,427 441.3,424.4Z" fill="#ffe000" stroke="#ffe000" stroke-width="1.2" filter="url(#bl1)"/><path d="M441.3,424.4C441.3,421.8 442.6,415.7 443.8,413.1C445.1,410.5 447.2,409 448.8,408.6C450.5,408.2 453.1,409 453.8,410.6C454.5,412.2 453.9,415.8 453.1,418.1C452.2,420.4 450.4,422.6 448.8,424.4C447.3,426.1 445.1,428.6 443.8,428.6C442.6,428.6 441.3,427 441.3,424.4Z" fill="#fb0a00" filter="url(#bl0)"/><path d="M467.5,418.3C468.8,417 472.9,412.9 475.3,410.3C477.6,407.6 480.1,405.2 481.6,402.5C483.1,399.8 484.1,396.5 484.3,394C484.6,391.6 483.5,388.8 483.3,387.7" fill="none" stroke="#0818e8" stroke-width="2.3" stroke-linecap="round" stroke-linejoin="round" opacity="1" filter="url(#bl0)"/><path d="M451.3,434.4C450.4,432.8 453.5,428.1 455.1,425.6C456.6,423.1 458.7,420.7 460.6,419.4C462.5,418 465.1,417 466.4,417.6C467.6,418.2 468.4,420.9 468.1,423.1C467.8,425.3 465.6,428.7 464.3,430.6C463.1,432.6 462.8,434.3 460.6,434.9C458.4,435.5 452.2,435.9 451.3,434.4Z" fill="#00e0ff" stroke="#00e0ff" stroke-width="1.2" filter="url(#bl1)"/><path d="M451.3,434.4C450.4,432.8 453.5,428.1 455.1,425.6C456.6,423.1 458.7,420.7 460.6,419.4C462.5,418 465.1,417 466.4,417.6C467.6,418.2 468.4,420.9 468.1,423.1C467.8,425.3 465.6,428.7 464.3,430.6C463.1,432.6 462.8,434.3 460.6,434.9C458.4,435.5 452.2,435.9 451.3,434.4Z" fill="#0818e8" filter="url(#bl0)"/><path d="M462.6,438.1C463,435.1 463.6,430 465.1,426.9C466.6,423.7 469.1,420.4 471.4,419.4C473.7,418.3 477.2,419.2 478.9,420.6C480.5,422.1 481.6,425.4 481.4,428.1C481.2,430.8 479.5,434.6 477.6,436.9C475.7,439.2 472.6,440.6 470.1,441.9C467.6,443.2 463.8,445.5 462.6,444.9C461.3,444.3 462.2,441.1 462.6,438.1Z" fill="#ffe000" stroke="#ffe000" stroke-width="1.5" filter="url(#bl1)"/><path d="M462.6,438.1C463,435.1 463.6,430 465.1,426.9C466.6,423.7 469.1,420.4 471.4,419.4C473.7,418.3 477.2,419.2 478.9,420.6C480.5,422.1 481.6,425.4 481.4,428.1C481.2,430.8 479.5,434.6 477.6,436.9C475.7,439.2 472.6,440.6 470.1,441.9C467.6,443.2 463.8,445.5 462.6,444.9C461.3,444.3 462.2,441.1 462.6,438.1Z" fill="#fb0a00" filter="url(#bl0)"/><path d="M484.6,381.1C485.5,379.1 489.7,373.8 493.1,371.5C496.6,369.3 501.4,367.8 505.2,367.5C508.9,367.3 514.8,368.6 515.7,370C516.5,371.5 513.4,374.4 510.2,376.1C506.9,377.7 500.1,378.8 496.4,380.1C492.7,381.3 490.1,383.4 488.1,383.6C486.2,383.7 483.8,383.1 484.6,381.1Z" fill="#0818e8" filter="url(#bl0)"/><path d="M484.6,381.1C485.5,379.1 489.7,373.8 493.1,371.5C496.6,369.3 501.4,367.8 505.2,367.5C508.9,367.3 514.8,368.6 515.7,370C516.5,371.5 513.4,374.4 510.2,376.1C506.9,377.7 500.1,378.8 496.4,380.1C492.7,381.3 490.1,383.4 488.1,383.6C486.2,383.7 483.8,383.1 484.6,381.1Z" class="ct"/><path d="M472.9,396.8C472.9,394.5 473.5,390.4 474.1,389.3C474.7,388.2 475.9,388.4 476.6,390.1C477.3,391.7 478.2,396.8 478.1,399.3C478,401.8 476.9,404.5 476.1,405.1C475.4,405.7 474.2,404.5 473.6,403.1C473.1,401.7 472.8,399.1 472.9,396.8Z" fill="#fb0a00" filter="url(#bl0)"/><path d="M491.1,391.8C491.6,389 493.6,385.9 495.1,385.1C496.7,384.3 499.6,385.4 500.6,387.1C501.7,388.7 502.2,392.4 501.6,395.1C501.1,397.8 499.1,401.9 497.6,403.1C496.1,404.3 493.7,404 492.6,402.1C491.6,400.2 490.7,394.7 491.1,391.8Z" fill="#fb0a00" filter="url(#bl0)"/><path d="M518.2,386.8C518,384.5 519.6,382.1 521.4,381.1C523.2,380 526.8,379.8 528.9,380.6C531.1,381.3 533.6,383.7 534.4,385.6C535.3,387.4 534.9,390.1 533.9,391.8C533,393.6 530.9,395.5 528.9,396.1C527,396.6 524,396.6 522.2,395.1C520.4,393.5 518.3,389.2 518.2,386.8Z" fill="#0818e8" filter="url(#bl0)"/><circle cx="435.8" cy="425.6" r="6.8" fill="#fff" stroke="#222" stroke-width="0.5"/><circle cx="455.8" cy="439.4" r="6.8" fill="#fff" stroke="#222" stroke-width="0.5"/><text x="444.3" y="405.8" class="vl" font-size="8.3">A1-3</text><text x="442.8" y="415.9" class="vl" font-size="8.3">B1-4</text><text x="448.6" y="430.9" class="vl" font-size="8.3">A2-3</text><text x="468.6" y="440.1" class="vl" font-size="8.3">B2-4</text><text x="464.8" y="397.1" class="vl" font-size="8.3">B1-3</text><text x="489.4" y="400.3" class="vl" font-size="8.3">B2-3</text><text x="491.1" y="381.6" class="vl" font-size="8.3">A1-2</text><text x="520.7" y="395.1" class="vl" font-size="8.3">A2-2</text></g>
<path d="M395.4,343.3V476.3H703.3" fill="none" stroke="#222" stroke-width="1"/><path d="M408.8,476.3v-2.6M435.5,476.3v-2.6M462.2,476.3v-2.6M488.9,476.3v-2.6M515.6,476.3v-2.6M542.4,476.3v-2.6M569.1,476.3v-2.6M595.8,476.3v-2.6M622.5,476.3v-2.6M649.2,476.3v-2.6M676,476.3v-2.6M702.7,476.3v-2.6M395.4,463h3M395.4,436.4h3M395.4,409.8h3M395.4,383.2h3M395.4,356.6h3" stroke="#111" stroke-width="0.9" fill="none"/><text x="405.6" y="487.9" class="tk" text-anchor="middle">−2</text><text x="462.5" y="487.9" class="tk" text-anchor="middle">2</text><text x="516.2" y="487.9" class="tk" text-anchor="middle">6</text><text x="570" y="487.9" class="tk" text-anchor="middle">10</text><text x="623.7" y="487.9" class="tk" text-anchor="middle">14</text><text x="677.5" y="487.9" class="tk" text-anchor="middle">18</text><text x="394.1" y="466.9" class="tk" text-anchor="end">−4</text><text x="394.1" y="413.7" class="tk" text-anchor="end">0</text><text x="394.1" y="360.5" class="tk" text-anchor="end">4</text><text x="373.1" y="414.6" class="ax">y</text><text x="538.6" y="498.3" class="ax">x</text><text x="404.8" y="366.1" class="pl">(f)</text>
<g clip-path="url(#cpg)"><rect x="31.6" y="509.5" width="306" height="132.9" fill="#10fa22"/><ellipse cx="250.7" cy="579.9" rx="139.9" ry="69.3" fill="url(#ghz)"/><ellipse transform="translate(277.2,561.6) rotate(0)" rx="15" ry="17.5" fill="url(#gw)"/><ellipse transform="translate(244.6,604.1) rotate(-10)" rx="22.5" ry="7.5" fill="url(#gw)"/><path d="M110.2,558.1C108.3,558.4 102,558.2 98.9,560.1C95.8,562 92.3,566.3 91.4,569.6C90.4,572.9 92.8,578.4 93.1,580.1" fill="none" stroke="#20f0f0" stroke-width="2.5" stroke-linecap="round" stroke-linejoin="round" opacity="1" filter="url(#bl0)"/><g transform="translate(104.6,567.6) rotate(0)"><ellipse rx="10.5" ry="11" fill="url(#gc)"/></g><path d="M118.9,590.1C120,588.2 124.8,582.4 127.7,578.9C130.6,575.3 134.7,570.1 136.4,568.9C138.2,567.6 139.2,569.3 138.2,571.4C137.2,573.5 133,578.2 130.2,581.4C127.4,584.6 123.3,589.2 121.4,590.6C119.5,592.1 117.9,592.1 118.9,590.1Z" fill="#20f0e8" opacity="1" filter="url(#bl0)"/><path d="M118.9,590.1C120,588.2 124.8,582.4 127.7,578.9C130.6,575.3 134.7,570.1 136.4,568.9C138.2,567.6 139.2,569.3 138.2,571.4C137.2,573.5 133,578.2 130.2,581.4C127.4,584.6 123.3,589.2 121.4,590.6C119.5,592.1 117.9,592.1 118.9,590.1Z" class="ct"/><g transform="translate(127.2,566.4) rotate(-20)"><ellipse rx="5.5" ry="9.8" fill="url(#gR)"/><ellipse rx="4.3" ry="7.5" class="ct"/></g><path d="M135.2,555.6C135.4,552.5 138.1,547.9 140.2,546.3C142.3,544.8 145.8,544.7 147.7,546.3C149.6,548 151.5,552.8 151.7,556.3C152,559.9 150.5,564.8 149.2,567.6C148,570.4 145.9,573.5 144.2,573.1C142.5,572.7 140.4,568 138.9,565.1C137.4,562.2 135,558.7 135.2,555.6Z" fill="#ffe000" stroke="#c8ff10" stroke-width="2" opacity="1" filter="url(#bl1)"/><path d="M135.2,555.6C135.4,552.5 138.1,547.9 140.2,546.3C142.3,544.8 145.8,544.7 147.7,546.3C149.6,548 151.5,552.8 151.7,556.3C152,559.9 150.5,564.8 149.2,567.6C148,570.4 145.9,573.5 144.2,573.1C142.5,572.7 140.4,568 138.9,565.1C137.4,562.2 135,558.7 135.2,555.6Z" class="ct"/><g transform="translate(143.2,557.1) rotate(0)"><ellipse rx="7.5" ry="12.5" fill="url(#gR)"/></g><path d="M130.5,550.2C130,549.6 130.7,545.5 131.9,543.1C133,540.8 134.9,538.1 137.5,536.1C140.1,534.1 143.8,532.1 147.3,531.2C150.9,530.2 155.1,530.2 158.6,530.5C162.1,530.7 165.6,531.5 168.4,532.6C171.3,533.6 174.1,535.5 175.5,536.8C176.9,538.1 177.6,539.6 176.9,540.3C176.2,541 173.8,541.1 171.3,541.2C168.7,541.2 164.9,540.5 161.4,540.5C157.9,540.5 153.7,540.7 150.2,541.2C146.6,541.6 142.9,542.3 140.3,543.3C137.7,544.2 136.3,545.6 134.7,546.8C133,547.9 130.9,550.8 130.5,550.2Z" fill="#10e8ff" stroke="#30ffb0" stroke-width="2" opacity="1" filter="url(#bl1)"/><path d="M130.5,550.2C130,549.6 130.7,545.5 131.9,543.1C133,540.8 134.9,538.1 137.5,536.1C140.1,534.1 143.8,532.1 147.3,531.2C150.9,530.2 155.1,530.2 158.6,530.5C162.1,530.7 165.6,531.5 168.4,532.6C171.3,533.6 174.1,535.5 175.5,536.8C176.9,538.1 177.6,539.6 176.9,540.3C176.2,541 173.8,541.1 171.3,541.2C168.7,541.2 164.9,540.5 161.4,540.5C157.9,540.5 153.7,540.7 150.2,541.2C146.6,541.6 142.9,542.3 140.3,543.3C137.7,544.2 136.3,545.6 134.7,546.8C133,547.9 130.9,550.8 130.5,550.2Z" class="ct"/><g transform="translate(167.7,528.8) rotate(5)"><ellipse rx="7.2" ry="2" fill="url(#gy)"/><ellipse rx="5.5" ry="1.5" class="ct"/></g><g transform="translate(177,554.8) rotate(20)"><ellipse rx="16.3" ry="14.6" fill="url(#gB)"/><ellipse rx="12.5" ry="11.3" class="ct"/><ellipse rx="10.5" ry="9.5" class="ct"/><ellipse rx="8.5" ry="7.7" class="ct"/></g><g transform="translate(220.8,574.1) rotate(35)"><ellipse rx="21.8" ry="10.9" fill="url(#gc)"/><ellipse rx="15" ry="7.5" class="ct"/></g><g transform="translate(202.1,588.4) rotate(15)"><ellipse rx="24.5" ry="13.3" fill="url(#gy)"/><ellipse rx="17.5" ry="9.5" class="ct"/><ellipse rx="9.1" ry="4.9" class="ct"/></g><g transform="translate(284.2,579.9) rotate(15)"><ellipse rx="14.5" ry="17.4" fill="url(#gy)"/><ellipse rx="10" ry="12" class="ct"/><ellipse rx="4" ry="4.8" class="ct"/></g><g transform="translate(306.5,544.1) rotate(25)"><ellipse rx="26.1" ry="16.3" fill="url(#gc)"/><ellipse rx="18" ry="11.3" class="ct"/></g><g transform="translate(259.1,617.2) rotate(30)"><ellipse rx="7.2" ry="4.5" fill="url(#gc)"/><ellipse rx="4" ry="2.5" class="ct"/></g><path d="M69.6,586.1C70.1,585.1 76.3,584.3 79.5,584.4C82.8,584.4 86,585.5 89,586.5C92.1,587.4 94.9,588.6 97.7,590.1C100.5,591.5 104.8,593.9 105.7,595.1C106.6,596.4 104.7,597.8 103,597.7C101.2,597.6 98,595.4 95.4,594.5C92.7,593.5 89.6,592.6 86.9,592C84.2,591.3 80.8,591 79.1,590.7C77.4,590.4 78.2,591 76.6,590.3C75,589.5 69.1,587 69.6,586.1Z" fill="#00e0ff" stroke="#00e0ff" stroke-width="1" filter="url(#bl1)"/><path d="M69.6,586.1C70.1,585.1 76.3,584.3 79.5,584.4C82.8,584.4 86,585.5 89,586.5C92.1,587.4 94.9,588.6 97.7,590.1C100.5,591.5 104.8,593.9 105.7,595.1C106.6,596.4 104.7,597.8 103,597.7C101.2,597.6 98,595.4 95.4,594.5C92.7,593.5 89.6,592.6 86.9,592C84.2,591.3 80.8,591 79.1,590.7C77.4,590.4 78.2,591 76.6,590.3C75,589.5 69.1,587 69.6,586.1Z" fill="#0818e8" filter="url(#bl0)"/><path d="M72.1,598.2C72.5,597.4 77,597.2 78.9,596.4C80.7,595.6 82.6,593.3 83.1,593.6C83.6,594 83,597.2 81.9,598.4C80.7,599.6 78,600.7 76.4,600.7C74.7,600.6 71.7,598.9 72.1,598.2Z" fill="#ffe000" stroke="#ffe000" stroke-width="0.8" filter="url(#bl1)"/><path d="M72.1,598.2C72.5,597.4 77,597.2 78.9,596.4C80.7,595.6 82.6,593.3 83.1,593.6C83.6,594 83,597.2 81.9,598.4C80.7,599.6 78,600.7 76.4,600.7C74.7,600.6 71.7,598.9 72.1,598.2Z" fill="#fb0a00" filter="url(#bl0)"/><path d="M87.6,603.9C88,603.2 92,604.1 93.9,605.2C95.8,606.2 98.5,608.9 98.9,610.2C99.3,611.4 97.6,612.8 96.4,612.7C95.1,612.5 92.8,610.6 91.4,609.2C89.9,607.7 87.2,604.6 87.6,603.9Z" fill="#ffe000" stroke="#ffe000" stroke-width="0.8" filter="url(#bl1)"/><path d="M87.6,603.9C88,603.2 92,604.1 93.9,605.2C95.8,606.2 98.5,608.9 98.9,610.2C99.3,611.4 97.6,612.8 96.4,612.7C95.1,612.5 92.8,610.6 91.4,609.2C89.9,607.7 87.2,604.6 87.6,603.9Z" fill="#fb0a00" filter="url(#bl0)"/><path d="M113.9,600.2C115,598.4 119.1,595.1 121.4,594.6C123.7,594.2 126.1,595.7 127.7,597.7C129.2,599.6 130.9,603.5 130.7,606.4C130.5,609.3 128.6,612.9 126.4,615.2C124.3,617.5 120.8,619.3 117.7,620.2C114.5,621 110.6,620.9 107.7,620.2C104.7,619.4 101.6,616.9 100.1,615.7C98.7,614.4 98.1,613 98.9,612.7C99.7,612.4 103.1,614.1 105.1,613.9C107.2,613.7 109.7,612.9 111.4,611.4C113.1,610 114.7,607 115.2,605.2C115.6,603.3 112.9,601.9 113.9,600.2Z" fill="#ffe000" stroke="#ffe000" stroke-width="3" filter="url(#bl1)"/><path d="M113.9,600.2C115,598.4 119.1,595.1 121.4,594.6C123.7,594.2 126.1,595.7 127.7,597.7C129.2,599.6 130.9,603.5 130.7,606.4C130.5,609.3 128.6,612.9 126.4,615.2C124.3,617.5 120.8,619.3 117.7,620.2C114.5,621 110.6,620.9 107.7,620.2C104.7,619.4 101.6,616.9 100.1,615.7C98.7,614.4 98.1,613 98.9,612.7C99.7,612.4 103.1,614.1 105.1,613.9C107.2,613.7 109.7,612.9 111.4,611.4C113.1,610 114.7,607 115.2,605.2C115.6,603.3 112.9,601.9 113.9,600.2Z" fill="#fb0a00" filter="url(#bl0)"/><path d="M97.6,596.4C99.1,595.1 102.4,596.6 105.1,596.4C107.9,596.2 112,594.3 113.9,595.1C115.8,596 116.6,599.1 116.4,601.4C116.2,603.7 114.3,607 112.7,608.9C111,610.8 108.5,612.5 106.4,612.7C104.3,612.9 101.8,611.6 100.1,610.2C98.5,608.7 96.8,606.2 96.4,603.9C96,601.6 96.2,597.7 97.6,596.4Z" fill="#00e0ff" stroke="#00e0ff" stroke-width="1" filter="url(#bl1)"/><path d="M97.6,596.4C99.1,595.1 102.4,596.6 105.1,596.4C107.9,596.2 112,594.3 113.9,595.1C115.8,596 116.6,599.1 116.4,601.4C116.2,603.7 114.3,607 112.7,608.9C111,610.8 108.5,612.5 106.4,612.7C104.3,612.9 101.8,611.6 100.1,610.2C98.5,608.7 96.8,606.2 96.4,603.9C96,601.6 96.2,597.7 97.6,596.4Z" fill="#0818e8" filter="url(#bl0)"/><path d="M97.1,566.4C97.1,563.9 98.5,561.3 100.1,560.1C101.8,558.9 105.1,558.3 107.2,559.1C109.2,559.8 111.8,562.4 112.7,564.6C113.5,566.8 113.1,570.2 112.2,572.1C111.2,574.1 109.2,575.9 107.2,576.4C105.1,576.9 101.8,576.8 100.1,575.1C98.5,573.5 97.1,568.9 97.1,566.4Z" fill="#0818e8" filter="url(#bl0)"/><path d="M92.6,576.4C93.3,574.9 96.4,574.7 98.9,575.1C101.4,575.5 105.3,577 107.7,578.9C110,580.8 112.7,584.5 113.2,586.4C113.6,588.3 111.9,589.8 110.2,590.1C108.4,590.4 105.1,589.2 102.6,588.1C100.1,587.1 96.8,585.8 95.1,583.9C93.5,581.9 92,577.8 92.6,576.4Z" fill="#ffe000" stroke="#ffe000" stroke-width="2" filter="url(#bl1)"/><path d="M92.6,576.4C93.3,574.9 96.4,574.7 98.9,575.1C101.4,575.5 105.3,577 107.7,578.9C110,580.8 112.7,584.5 113.2,586.4C113.6,588.3 111.9,589.8 110.2,590.1C108.4,590.4 105.1,589.2 102.6,588.1C100.1,587.1 96.8,585.8 95.1,583.9C93.5,581.9 92,577.8 92.6,576.4Z" fill="#fb0a00" filter="url(#bl0)"/><path d="M124.8,563.9C125,563 126.2,562.5 127,562.8C127.8,563.1 129,564.8 129.6,565.9C130.2,567 130.6,568.8 130.5,569.6C130.4,570.4 129.6,571 128.9,570.8C128.2,570.7 126.9,569.9 126.3,568.7C125.6,567.6 124.7,564.9 124.8,563.9Z" fill="#ff9800" stroke="#ff9800" stroke-width="1.4" filter="url(#bl1)"/><path d="M124.8,563.9C125,563 126.2,562.5 127,562.8C127.8,563.1 129,564.8 129.6,565.9C130.2,567 130.6,568.8 130.5,569.6C130.4,570.4 129.6,571 128.9,570.8C128.2,570.7 126.9,569.9 126.3,568.7C125.6,567.6 124.7,564.9 124.8,563.9Z" fill="#fb0a00" filter="url(#bl0)"/><path d="M140,555.8C140.2,554.4 140.6,552.3 141.3,551.3C142.1,550.3 143.5,549.7 144.5,549.9C145.5,550.1 146.8,551 147.3,552.4C147.9,553.8 147.9,556.7 147.6,558.3C147.4,560 146.6,561.7 145.8,562.4C145,563.1 143.6,562.9 142.7,562.4C141.8,561.9 140.9,560.5 140.5,559.4C140,558.3 139.9,557.1 140,555.8Z" fill="#ff9800" stroke="#ff9800" stroke-width="2.2" filter="url(#bl1)"/><path d="M140,555.8C140.2,554.4 140.6,552.3 141.3,551.3C142.1,550.3 143.5,549.7 144.5,549.9C145.5,550.1 146.8,551 147.3,552.4C147.9,553.8 147.9,556.7 147.6,558.3C147.4,560 146.6,561.7 145.8,562.4C145,563.1 143.6,562.9 142.7,562.4C141.8,561.9 140.9,560.5 140.5,559.4C140,558.3 139.9,557.1 140,555.8Z" fill="#fb0a00" filter="url(#bl0)"/><path d="M139.2,538.3C140.1,537.1 144.3,534.9 147.3,534C150.3,533.1 154.1,532.8 157.2,532.9C160.2,533 163.3,533.8 165.6,534.5C167.9,535.3 170.5,536.6 171,537.5C171.5,538.4 170.8,539.5 168.7,539.8C166.7,540 161.9,539.1 158.6,539.1C155.3,539 151.6,539 148.8,539.3C145.9,539.7 143.3,541.5 141.7,541.3C140.1,541.1 138.3,539.6 139.2,538.3Z" fill="#0818e8" filter="url(#bl0)"/><path d="M139.2,538.3C140.1,537.1 144.3,534.9 147.3,534C150.3,533.1 154.1,532.8 157.2,532.9C160.2,533 163.3,533.8 165.6,534.5C167.9,535.3 170.5,536.6 171,537.5C171.5,538.4 170.8,539.5 168.7,539.8C166.7,540 161.9,539.1 158.6,539.1C155.3,539 151.6,539 148.8,539.3C145.9,539.7 143.3,541.5 141.7,541.3C140.1,541.1 138.3,539.6 139.2,538.3Z" class="ct"/><path d="M169,552.8C169.1,550.7 170.3,548.1 172,547.1C173.8,546 177.4,545.7 179.5,546.6C181.7,547.4 184.3,550 185,552.1C185.8,554.2 185.2,557.4 184,559.1C182.9,560.7 180.4,562 178.3,562.1C176.2,562.2 173.1,561.1 171.5,559.6C170,558 168.9,554.9 169,552.8Z" fill="#0818e8" filter="url(#bl0)"/><circle cx="71.4" cy="592.1" r="6.8" fill="#fff" stroke="#222" stroke-width="0.5"/><circle cx="91.4" cy="597.7" r="6.8" fill="#fff" stroke="#222" stroke-width="0.5"/><path d="M111.4,557.1C109.2,557.3 101.8,556.5 98.1,558.6C94.5,560.7 90.6,565.8 89.6,569.6C88.6,573.4 91.7,579.4 92.1,581.4" class="ct"/><text x="101.1" y="572.6" class="vl" font-size="8.3">A1-3</text><text x="96.1" y="587.6" class="vl" font-size="8.3">B1-4</text><text x="99.4" y="606.4" class="vl" font-size="8.3">A2-3</text><text x="114.4" y="614.4" class="vl" font-size="8.3">B2-4</text></g>
<path d="M31.6,509.5V642.4H337.6" fill="none" stroke="#222" stroke-width="1"/><path d="M44.9,642.4v-2.6M71.4,642.4v-2.6M98,642.4v-2.6M124.6,642.4v-2.6M151.1,642.4v-2.6M177.7,642.4v-2.6M204.2,642.4v-2.6M230.8,642.4v-2.6M257.4,642.4v-2.6M283.9,642.4v-2.6M310.5,642.4v-2.6M337,642.4v-2.6M31.6,629.1h3M31.6,602.5h3M31.6,576h3M31.6,549.4h3M31.6,522.8h3" stroke="#111" stroke-width="0.9" fill="none"/><text x="42.5" y="653" class="tk" text-anchor="middle">−2</text><text x="99.1" y="653" class="tk" text-anchor="middle">2</text><text x="152.5" y="653" class="tk" text-anchor="middle">6</text><text x="205.9" y="653" class="tk" text-anchor="middle">10</text><text x="259.4" y="653" class="tk" text-anchor="middle">14</text><text x="312.8" y="653" class="tk" text-anchor="middle">18</text><text x="30.3" y="633" class="tk" text-anchor="end">−4</text><text x="30.3" y="579.9" class="tk" text-anchor="end">0</text><text x="30.3" y="526.7" class="tk" text-anchor="end">4</text><text x="9.3" y="580.8" class="ax">y</text><text x="174.8" y="664.4" class="ax">x</text><text x="37.4" y="534.8" class="pl">(g)</text>
<g clip-path="url(#cph)"><rect x="395.4" y="509.1" width="308.6" height="133" fill="#10fa22"/><ellipse cx="616.3" cy="579.6" rx="139.9" ry="69.3" fill="url(#ghz)"/><ellipse transform="translate(650.7,619.2) rotate(20)" rx="11.3" ry="7.5" fill="url(#gk)"/><ellipse transform="translate(663.2,556.6) rotate(0)" rx="15" ry="15" fill="url(#gw)"/><ellipse transform="translate(633.1,601.6) rotate(-10)" rx="25" ry="7.5" fill="url(#gw)"/><g transform="translate(485.6,570.3) rotate(0)"><ellipse rx="11" ry="11.6" fill="url(#gc)"/></g><g transform="translate(509.4,571.6) rotate(0)"><ellipse rx="7.8" ry="6.8" fill="url(#gR)"/><ellipse rx="5.8" ry="5" class="ct"/></g><g transform="translate(523.9,554.1) rotate(0)"><ellipse rx="11.2" ry="14.2" fill="url(#gR)"/><ellipse rx="8.3" ry="10.5" class="ct"/><ellipse rx="5" ry="6.3" class="ct"/></g><path d="M513.9,542.7C514.1,541 515.6,535.8 518.1,533.3C520.7,530.8 525.4,528.6 529.4,527.7C533.4,526.7 537.8,526.7 542,527.4C546.3,528 550.7,529.4 554.7,531.6C558.7,533.8 563.1,537.1 565.9,540.3C568.8,543.5 571.1,550 571.6,550.9C572,551.7 570.5,547 568.8,545.2C567,543.5 563.7,541.1 561,540.6C558.3,540.1 554.6,542.1 552.6,542C550.6,541.9 551.5,540.6 549.1,539.9C546.6,539.2 541.8,538.1 537.8,537.9C533.8,537.7 528.7,537.7 525.2,538.6C521.6,539.5 518.6,542.6 516.7,543.3C514.8,543.9 513.7,544.4 513.9,542.7Z" fill="#10e8ff" stroke="#30ffb0" stroke-width="2" opacity="1" filter="url(#bl1)"/><path d="M513.9,542.7C514.1,541 515.6,535.8 518.1,533.3C520.7,530.8 525.4,528.6 529.4,527.7C533.4,526.7 537.8,526.7 542,527.4C546.3,528 550.7,529.4 554.7,531.6C558.7,533.8 563.1,537.1 565.9,540.3C568.8,543.5 571.1,550 571.6,550.9C572,551.7 570.5,547 568.8,545.2C567,543.5 563.7,541.1 561,540.6C558.3,540.1 554.6,542.1 552.6,542C550.6,541.9 551.5,540.6 549.1,539.9C546.6,539.2 541.8,538.1 537.8,537.9C533.8,537.7 528.7,537.7 525.2,538.6C521.6,539.5 518.6,542.6 516.7,543.3C514.8,543.9 513.7,544.4 513.9,542.7Z" class="ct"/><path d="M523.8,534C524.2,533 527.7,530.9 530.8,530.2C533.8,529.4 538.5,529.1 542,529.5C545.6,529.9 549.9,531.5 551.9,532.6C553.9,533.6 555.1,535.2 554.1,535.8C553.2,536.4 549.2,536.4 546.3,536.2C543.3,536.1 539.5,535.1 536.4,535.1C533.4,535.1 530.1,536.4 528,536.2C525.9,536.1 523.3,535 523.8,534Z" fill="#1890ff" opacity="1" filter="url(#bl1)"/><path d="M523.8,534C524.2,533 527.7,530.9 530.8,530.2C533.8,529.4 538.5,529.1 542,529.5C545.6,529.9 549.9,531.5 551.9,532.6C553.9,533.6 555.1,535.2 554.1,535.8C553.2,536.4 549.2,536.4 546.3,536.2C543.3,536.1 539.5,535.1 536.4,535.1C533.4,535.1 530.1,536.4 528,536.2C525.9,536.1 523.3,535 523.8,534Z" class="ct"/><g transform="translate(559,554.1) rotate(25)"><ellipse rx="16.9" ry="15.6" fill="url(#gB)"/><ellipse rx="13" ry="12" class="ct"/><ellipse rx="10.4" ry="9.6" class="ct"/><ellipse rx="7.8" ry="7.2" class="ct"/></g><g transform="translate(573,587.9) rotate(0)"><ellipse rx="8.8" ry="9.8" fill="url(#gy)"/><ellipse rx="6.3" ry="7" class="ct"/></g><g transform="translate(605.1,574.8) rotate(30)"><ellipse rx="20" ry="10.2" fill="url(#gc)"/><ellipse rx="13.8" ry="7" class="ct"/></g><g transform="translate(585.6,588.4) rotate(5)"><ellipse rx="26.1" ry="13.8" fill="url(#gy)"/><ellipse rx="18" ry="9.5" class="ct"/><ellipse rx="6.7" ry="3.5" class="ct"/></g><g transform="translate(672.7,580.4) rotate(0)"><ellipse rx="14.3" ry="18" fill="url(#gy)"/><ellipse rx="9.5" ry="12" class="ct"/><ellipse rx="1.4" ry="1.8" class="ct"/></g><g transform="translate(693.2,545.3) rotate(30)"><ellipse rx="23.6" ry="16.3" fill="url(#gc)"/><ellipse rx="16.3" ry="11.3" class="ct"/></g><path d="M431.8,593.8C431.6,594.2 435.1,595.6 437.4,596.6C439.6,597.5 442.6,598.7 445.3,599.4C447.9,600.1 450.7,600.8 453.1,600.7C455.6,600.6 457.7,599.8 459.9,598.8C462,597.8 464.5,596.4 466.1,594.9C467.7,593.4 469.1,591.4 469.4,589.8C469.8,588.2 469.4,585.9 468.3,585.3C467.3,584.8 464.8,586.6 463.3,586.4C461.7,586.3 460.7,584.6 458.8,584.2C456.8,583.8 452.8,583.5 451.4,584.2C450,584.8 450,586.7 450.3,588.1C450.6,589.5 451.9,591.4 453.1,592.6C454.3,593.8 457.6,594.7 457.6,595.4C457.6,596.2 455.2,597.2 453.1,597.1C451.1,597 447.7,595.4 445.3,594.9C442.8,594.3 440.8,593.9 438.5,593.8C436.3,593.6 431.9,593.3 431.8,593.8Z" fill="#ffe000" stroke="#ffe000" stroke-width="1" filter="url(#bl1)"/><path d="M431.8,593.8C431.6,594.2 435.1,595.6 437.4,596.6C439.6,597.5 442.6,598.7 445.3,599.4C447.9,600.1 450.7,600.8 453.1,600.7C455.6,600.6 457.7,599.8 459.9,598.8C462,597.8 464.5,596.4 466.1,594.9C467.7,593.4 469.1,591.4 469.4,589.8C469.8,588.2 469.4,585.9 468.3,585.3C467.3,584.8 464.8,586.6 463.3,586.4C461.7,586.3 460.7,584.6 458.8,584.2C456.8,583.8 452.8,583.5 451.4,584.2C450,584.8 450,586.7 450.3,588.1C450.6,589.5 451.9,591.4 453.1,592.6C454.3,593.8 457.6,594.7 457.6,595.4C457.6,596.2 455.2,597.2 453.1,597.1C451.1,597 447.7,595.4 445.3,594.9C442.8,594.3 440.8,593.9 438.5,593.8C436.3,593.6 431.9,593.3 431.8,593.8Z" fill="#fb0a00" filter="url(#bl0)"/><path d="M440.8,585C441.2,583.9 443,585.2 444.7,586.1C446.4,587 448.7,588.9 450.9,590.2C453,591.4 456.3,592.8 457.6,593.8C458.9,594.7 459.1,595.3 458.8,595.8C458.4,596.2 457.1,596.8 455.4,596.6C453.7,596.3 450.9,595 448.6,594.3C446.4,593.7 443.2,594.2 441.9,592.6C440.6,591.1 440.3,586.1 440.8,585Z" fill="#00e0ff" stroke="#00e0ff" stroke-width="0.6" filter="url(#bl1)"/><path d="M440.8,585C441.2,583.9 443,585.2 444.7,586.1C446.4,587 448.7,588.9 450.9,590.2C453,591.4 456.3,592.8 457.6,593.8C458.9,594.7 459.1,595.3 458.8,595.8C458.4,596.2 457.1,596.8 455.4,596.6C453.7,596.3 450.9,595 448.6,594.3C446.4,593.7 443.2,594.2 441.9,592.6C440.6,591.1 440.3,586.1 440.8,585Z" fill="#0818e8" filter="url(#bl0)"/><path d="M471.4,580.8C471.8,579.9 473.4,578.6 474.5,579.1C475.6,579.6 475.6,582.4 477.9,583.9C480.1,585.3 485.2,585.9 488,587.9C490.9,589.9 493.4,592.9 495,595.8C496.6,598.6 497.6,603 497.6,605C497.6,607 496,608.7 495,607.8C494,606.9 493.3,602.1 491.4,599.6C489.5,597.1 486.3,594.8 483.5,592.9C480.7,590.9 476.5,589.2 474.5,587.8C472.5,586.4 472.2,585.7 471.7,584.5C471.2,583.4 470.9,581.7 471.4,580.8Z" fill="#ffe000" stroke="#ffe000" stroke-width="2.5" filter="url(#bl1)"/><path d="M471.4,580.8C471.8,579.9 473.4,578.6 474.5,579.1C475.6,579.6 475.6,582.4 477.9,583.9C480.1,585.3 485.2,585.9 488,587.9C490.9,589.9 493.4,592.9 495,595.8C496.6,598.6 497.6,603 497.6,605C497.6,607 496,608.7 495,607.8C494,606.9 493.3,602.1 491.4,599.6C489.5,597.1 486.3,594.8 483.5,592.9C480.7,590.9 476.5,589.2 474.5,587.8C472.5,586.4 472.2,585.7 471.7,584.5C471.2,583.4 470.9,581.7 471.4,580.8Z" fill="#fb0a00" filter="url(#bl0)"/><path d="M459.3,573.7C459.8,572.5 462.6,574.6 463.8,575.8C465.1,576.9 466.3,579.2 466.9,580.8C467.4,582.5 465.2,584.1 467.2,585.7C469.2,587.2 475.5,588.1 479,590.2C482.5,592.2 485.4,595 488,598C490.6,601.1 493.6,605.1 494.8,608.4C495.9,611.7 495.4,614.9 495.1,617.8C494.8,620.8 494.2,624.5 493,626.3C491.7,628.1 489.4,629 487.7,628.6C485.9,628.3 483.8,626.3 482.5,624.1C481.2,622 480.5,618.3 480.1,615.7C479.8,613.1 480.2,611.2 480.4,608.4C480.5,605.6 482.6,601.6 481.3,598.8C479.9,596 475.4,593.6 472.3,591.7C469.2,589.9 464.6,589 462.7,587.6C460.8,586.1 461.3,585.4 460.8,583.1C460.2,580.8 458.8,574.9 459.3,573.7Z" fill="#00e0ff" stroke="#00e0ff" stroke-width="1.2" filter="url(#bl1)"/><path d="M459.3,573.7C459.8,572.5 462.6,574.6 463.8,575.8C465.1,576.9 466.3,579.2 466.9,580.8C467.4,582.5 465.2,584.1 467.2,585.7C469.2,587.2 475.5,588.1 479,590.2C482.5,592.2 485.4,595 488,598C490.6,601.1 493.6,605.1 494.8,608.4C495.9,611.7 495.4,614.9 495.1,617.8C494.8,620.8 494.2,624.5 493,626.3C491.7,628.1 489.4,629 487.7,628.6C485.9,628.3 483.8,626.3 482.5,624.1C481.2,622 480.5,618.3 480.1,615.7C479.8,613.1 480.2,611.2 480.4,608.4C480.5,605.6 482.6,601.6 481.3,598.8C479.9,596 475.4,593.6 472.3,591.7C469.2,589.9 464.6,589 462.7,587.6C460.8,586.1 461.3,585.4 460.8,583.1C460.2,580.8 458.8,574.9 459.3,573.7Z" fill="#0818e8" filter="url(#bl0)"/><path d="M467.5,586.1C469.4,586.7 475.6,588 479,589.9C482.5,591.9 485.8,595.1 488.2,597.8C490.7,600.5 492.9,604.7 493.9,606.1" fill="none" stroke="#101010" stroke-width="1" stroke-linecap="round" stroke-linejoin="round" opacity="1" filter="url(#bl0)"/><path d="M477.6,569.6C477.5,567.2 479,564.8 480.6,563.6C482.3,562.3 485.5,561.5 487.6,562.1C489.8,562.7 492.6,565 493.6,567.1C494.6,569.2 494.4,572.6 493.6,574.6C492.8,576.6 490.9,578.5 488.9,579.1C486.8,579.7 483.2,579.7 481.4,578.1C479.5,576.5 477.7,572 477.6,569.6Z" fill="#0818e8" filter="url(#bl0)"/><path d="M497.6,609.1C498.9,605.8 500.6,602.8 502.7,601.6C504.7,600.5 508.1,600.9 510.2,602.1C512.2,603.4 514.1,606.3 515.2,609.1C516.2,612 516.8,615.8 516.4,619.2C516,622.5 514.5,626.7 512.7,629.2C510.8,631.7 507.7,633.8 505.2,634.2C502.7,634.6 499.3,633.8 497.6,631.7C496,629.6 495.1,625.4 495.1,621.7C495.1,617.9 496.4,612.5 497.6,609.1Z" fill="#ffe000" stroke="#ffe000" stroke-width="3.2" filter="url(#bl1)"/><path d="M497.6,609.1C498.9,605.8 500.6,602.8 502.7,601.6C504.7,600.5 508.1,600.9 510.2,602.1C512.2,603.4 514.1,606.3 515.2,609.1C516.2,612 516.8,615.8 516.4,619.2C516,622.5 514.5,626.7 512.7,629.2C510.8,631.7 507.7,633.8 505.2,634.2C502.7,634.6 499.3,633.8 497.6,631.7C496,629.6 495.1,625.4 495.1,621.7C495.1,617.9 496.4,612.5 497.6,609.1Z" fill="#fb0a00" filter="url(#bl0)"/><path d="M552.7,552.1C552.7,550.1 554.7,548.3 556.5,547.8C558.2,547.3 561.6,547.9 563.2,549.1C564.9,550.2 566.2,552.8 566.2,554.6C566.2,556.3 564.9,558.7 563.2,559.6C561.6,560.4 558.2,560.8 556.5,559.6C554.7,558.3 552.7,554 552.7,552.1Z" fill="#0818e8" filter="url(#bl0)"/><circle cx="435.6" cy="588.6" r="6.8" fill="#fff" stroke="#222" stroke-width="0.5"/><circle cx="455.6" cy="578.4" r="6.8" fill="#fff" stroke="#222" stroke-width="0.5"/><text x="481.1" y="576.9" class="vl" font-size="8.3">A1-3</text><text x="452.3" y="593.6" class="vl" font-size="8.3">B2-5</text><text x="483.6" y="598.6" class="vl" font-size="8.3">B2-4</text><text x="469.9" y="621.2" class="vl" font-size="8.3">A2-3</text><text x="501.1" y="623.2" class="vl" font-size="8.3">B2-4</text></g>
<path d="M395.4,509.1V642.1H704" fill="none" stroke="#222" stroke-width="1"/><path d="M408.8,642.1v-2.6M435.6,642.1v-2.6M462.3,642.1v-2.6M489.1,642.1v-2.6M515.9,642.1v-2.6M542.7,642.1v-2.6M569.5,642.1v-2.6M596.2,642.1v-2.6M623,642.1v-2.6M649.8,642.1v-2.6M676.6,642.1v-2.6M703.4,642.1v-2.6M395.4,628.8h3M395.4,602.2h3M395.4,575.6h3M395.4,549h3M395.4,522.4h3" stroke="#111" stroke-width="0.9" fill="none"/><text x="405" y="653.6" class="tk" text-anchor="middle">−2</text><text x="462" y="653.6" class="tk" text-anchor="middle">2</text><text x="515.9" y="653.6" class="tk" text-anchor="middle">6</text><text x="569.8" y="653.6" class="tk" text-anchor="middle">10</text><text x="623.6" y="653.6" class="tk" text-anchor="middle">14</text><text x="677.5" y="653.6" class="tk" text-anchor="middle">18</text><text x="394.1" y="632.7" class="tk" text-anchor="end">−4</text><text x="394.1" y="579.5" class="tk" text-anchor="end">0</text><text x="394.1" y="526.3" class="tk" text-anchor="end">4</text><text x="373.1" y="580.4" class="ax">y</text><text x="538.6" y="664.1" class="ax">x</text><text x="404.8" y="534.9" class="pl">(h)</text>
<g clip-path="url(#cpi)"><rect x="31.6" y="677.2" width="306" height="132.2" fill="#10fa22"/><ellipse cx="250.7" cy="747.3" rx="139.9" ry="69.3" fill="url(#ghz)"/><ellipse transform="translate(309.7,787.2) rotate(20)" rx="12.5" ry="7.5" fill="url(#gk)"/><ellipse transform="translate(340,707) rotate(0)" rx="6.3" ry="10" fill="url(#gk)"/><ellipse transform="translate(312.2,727.1) rotate(0)" rx="12.5" ry="15" fill="url(#gw)"/><ellipse transform="translate(274.7,732.1) rotate(20)" rx="37.6" ry="6.3" fill="url(#gk)"/><path d="M123.2,739.6C123.4,737.3 125.3,734.2 127.7,732.6C130.1,731 134.4,729.8 137.7,730.1C141,730.4 145.5,732.6 147.7,734.6C149.9,736.6 151.2,739.7 151,742.1C150.8,744.5 148.9,747.5 146.5,748.9C144,750.3 139.8,751 136.4,750.6C133.1,750.2 128.6,748.2 126.4,746.4C124.2,744.5 123,741.9 123.2,739.6Z" fill="#18f0f0" stroke="#30ffb0" stroke-width="2" opacity="1" filter="url(#bl1)"/><path d="M123.2,739.6C123.4,737.3 125.3,734.2 127.7,732.6C130.1,731 134.4,729.8 137.7,730.1C141,730.4 145.5,732.6 147.7,734.6C149.9,736.6 151.2,739.7 151,742.1C150.8,744.5 148.9,747.5 146.5,748.9C144,750.3 139.8,751 136.4,750.6C133.1,750.2 128.6,748.2 126.4,746.4C124.2,744.5 123,741.9 123.2,739.6Z" class="ct"/><path d="M113.2,743.9C113.6,743.2 117.3,742.3 120.2,743.1C123,744 126.6,746.2 130.2,748.9C133.7,751.5 137.9,755.3 141.4,758.9C145,762.4 148.8,767 151.5,770.2C154.1,773.3 157,776.5 157.2,777.7C157.4,778.8 154.7,778.2 152.7,777.2C150.7,776.1 147.9,773.8 145.2,771.4C142.5,769 139.6,765.7 136.4,762.6C133.3,759.6 129.6,755.7 126.4,753.1C123.3,750.5 119.9,748.7 117.7,747.1C115.5,745.6 112.7,744.5 113.2,743.9Z" fill="#fff000" stroke="#c8ff10" stroke-width="2" opacity="1" filter="url(#bl1)"/><path d="M113.2,743.9C113.6,743.2 117.3,742.3 120.2,743.1C123,744 126.6,746.2 130.2,748.9C133.7,751.5 137.9,755.3 141.4,758.9C145,762.4 148.8,767 151.5,770.2C154.1,773.3 157,776.5 157.2,777.7C157.4,778.8 154.7,778.2 152.7,777.2C150.7,776.1 147.9,773.8 145.2,771.4C142.5,769 139.6,765.7 136.4,762.6C133.3,759.6 129.6,755.7 126.4,753.1C123.3,750.5 119.9,748.7 117.7,747.1C115.5,745.6 112.7,744.5 113.2,743.9Z" class="ct"/><path d="M136.4,758.9C137.6,759.6 141.3,761.7 143.2,763.1C145.1,764.6 147,766.9 147.7,767.7" fill="none" stroke="#ff9000" stroke-width="1.5" stroke-linecap="round" stroke-linejoin="round" opacity="1" filter="url(#bl0)"/><g transform="translate(161.5,744.6) rotate(-20)"><ellipse rx="9.8" ry="7.7" fill="url(#gy)"/><ellipse rx="7" ry="5.5" class="ct"/><ellipse rx="3.2" ry="2.5" class="ct"/></g><path d="M133.2,791.4C133.1,787.2 134.8,782.4 136.4,779.7C138.1,777 140.9,775.3 143.2,775.2C145.5,775 148.5,776 150.2,778.9C151.9,781.8 153.2,788.3 153.2,792.7C153.2,797.1 151.8,802.4 150.2,805.2C148.7,808 146.1,809.7 144,809.7C141.8,809.7 139,808.2 137.2,805.2C135.4,802.2 133.3,795.7 133.2,791.4Z" fill="#18f0f0" stroke="#30ffb0" stroke-width="2" opacity="1" filter="url(#bl1)"/><path d="M133.2,791.4C133.1,787.2 134.8,782.4 136.4,779.7C138.1,777 140.9,775.3 143.2,775.2C145.5,775 148.5,776 150.2,778.9C151.9,781.8 153.2,788.3 153.2,792.7C153.2,797.1 151.8,802.4 150.2,805.2C148.7,808 146.1,809.7 144,809.7C141.8,809.7 139,808.2 137.2,805.2C135.4,802.2 133.3,795.7 133.2,791.4Z" class="ct"/><g transform="translate(163.2,793.9) rotate(0)"><ellipse rx="15" ry="23" fill="url(#gy)"/><ellipse rx="12.4" ry="19" class="ct"/></g><g transform="translate(176.5,720.3) rotate(0)"><ellipse rx="12.3" ry="15.8" fill="url(#go)"/><ellipse rx="8.8" ry="11.3" class="ct"/><ellipse rx="4.8" ry="6.2" class="ct"/><ellipse rx="0.7" ry="0.9" class="ct"/></g><g transform="translate(210.8,720.8) rotate(-15)"><ellipse rx="16.2" ry="19.6" fill="url(#gB2)"/><ellipse rx="12" ry="14.5" class="ct"/><ellipse rx="7.8" ry="9.4" class="ct"/><ellipse rx="4.6" ry="5.5" class="ct"/></g><path d="M172,702C171.8,700.7 175.1,696.3 178.3,694.5C181.4,692.8 186.4,691.5 190.8,691.5C195.2,691.5 200.4,692.8 204.6,694.5C208.7,696.3 212.5,698.9 215.8,702C219.2,705.2 222.8,710.1 224.6,713.3C226.3,716.5 227,721.1 226.3,721.3C225.7,721.5 223.2,716.9 220.8,714.6C218.5,712.2 215.2,708.9 212.1,707C208.9,705.2 205.8,704.3 202.1,703.3C198.3,702.3 193.3,700.9 189.5,700.8C185.8,700.7 182.4,702.3 179.5,702.5C176.6,702.8 172.2,703.4 172,702Z" fill="#20ffe0" stroke="#30ffa0" stroke-width="2.5" opacity="1" filter="url(#bl1)"/><path d="M172,702C171.8,700.7 175.1,696.3 178.3,694.5C181.4,692.8 186.4,691.5 190.8,691.5C195.2,691.5 200.4,692.8 204.6,694.5C208.7,696.3 212.5,698.9 215.8,702C219.2,705.2 222.8,710.1 224.6,713.3C226.3,716.5 227,721.1 226.3,721.3C225.7,721.5 223.2,716.9 220.8,714.6C218.5,712.2 215.2,708.9 212.1,707C208.9,705.2 205.8,704.3 202.1,703.3C198.3,702.3 193.3,700.9 189.5,700.8C185.8,700.7 182.4,702.3 179.5,702.5C176.6,702.8 172.2,703.4 172,702Z" class="ct"/><g transform="translate(259.1,742.1) rotate(30)"><ellipse rx="18.8" ry="8.3" fill="url(#gk)"/><ellipse rx="12.5" ry="5.5" class="ct"/></g><g transform="translate(237.9,755.9) rotate(5)"><ellipse rx="27" ry="13.1" fill="url(#gv)"/><ellipse rx="18" ry="8.8" class="ct"/></g><g transform="translate(328.5,747.1) rotate(0)"><ellipse rx="15.8" ry="18" fill="url(#gv2)"/><ellipse rx="10.5" ry="12" class="ct"/></g><path d="M95.7,723.6C97,722.2 101.2,726.9 102.5,729.1C103.8,731.3 104.2,734.5 103.5,736.9C102.9,739.3 100.3,742.2 98.7,743.5C97.1,744.8 94.5,745.6 93.8,744.7C93.2,743.8 94.3,741.5 94.7,738C95,734.5 94.4,725.1 95.7,723.6Z" fill="#00e0ff" stroke="#00e0ff" stroke-width="0.8" filter="url(#bl1)"/><path d="M95.7,723.6C97,722.2 101.2,726.9 102.5,729.1C103.8,731.3 104.2,734.5 103.5,736.9C102.9,739.3 100.3,742.2 98.7,743.5C97.1,744.8 94.5,745.6 93.8,744.7C93.2,743.8 94.3,741.5 94.7,738C95,734.5 94.4,725.1 95.7,723.6Z" fill="#0818e8" filter="url(#bl0)"/><path d="M86.4,733.9C87,733.2 90.1,734.1 91.4,735.1C92.6,736.1 93.6,738.2 93.9,740.1C94.2,742.1 93.8,746.2 93.1,746.9C92.5,747.6 91,745.7 90.1,744.4C89.2,743 88.2,740.6 87.6,738.9C87,737.1 85.7,734.5 86.4,733.9Z" fill="#ffe000" stroke="#ffe000" stroke-width="0.8" filter="url(#bl1)"/><path d="M86.4,733.9C87,733.2 90.1,734.1 91.4,735.1C92.6,736.1 93.6,738.2 93.9,740.1C94.2,742.1 93.8,746.2 93.1,746.9C92.5,747.6 91,745.7 90.1,744.4C89.2,743 88.2,740.6 87.6,738.9C87,737.1 85.7,734.5 86.4,733.9Z" fill="#fb0a00" filter="url(#bl0)"/><path d="M75.7,741.8C76.4,741 79.5,745.6 81.4,748.1C83.2,750.6 85.5,754.1 86.6,756.5C87.8,758.9 88.8,762 88.1,762.4C87.5,762.9 84.7,761.1 82.8,759.5C81,757.9 78.3,755.7 77.2,752.7C76,749.8 75,742.5 75.7,741.8Z" fill="#00e0ff" stroke="#00e0ff" stroke-width="0.8" filter="url(#bl1)"/><path d="M75.7,741.8C76.4,741 79.5,745.6 81.4,748.1C83.2,750.6 85.5,754.1 86.6,756.5C87.8,758.9 88.8,762 88.1,762.4C87.5,762.9 84.7,761.1 82.8,759.5C81,757.9 78.3,755.7 77.2,752.7C76,749.8 75,742.5 75.7,741.8Z" fill="#0818e8" filter="url(#bl0)"/><path d="M66.6,750.2C67.1,749.8 70.6,752 72.9,753.2C75.2,754.3 78,755.6 80.3,757C82.7,758.4 85.5,760.5 87.1,761.6C88.6,762.7 89.9,762.9 89.8,763.3C89.7,763.6 88.6,764.1 86.6,763.7C84.7,763.3 80.9,762.1 78.2,760.8C75.5,759.5 72.1,757.7 70.2,755.9C68.3,754.1 66.1,750.7 66.6,750.2Z" fill="#ffe000" stroke="#ffe000" stroke-width="0.8" filter="url(#bl1)"/><path d="M66.6,750.2C67.1,749.8 70.6,752 72.9,753.2C75.2,754.3 78,755.6 80.3,757C82.7,758.4 85.5,760.5 87.1,761.6C88.6,762.7 89.9,762.9 89.8,763.3C89.7,763.6 88.6,764.1 86.6,763.7C84.7,763.3 80.9,762.1 78.2,760.8C75.5,759.5 72.1,757.7 70.2,755.9C68.3,754.1 66.1,750.7 66.6,750.2Z" fill="#fb0a00" filter="url(#bl0)"/><path d="M91.4,746.4C91.2,748 89.5,753.5 90.1,756.4C90.8,759.3 92.2,762.4 95.1,763.9C98.1,765.4 103.9,765.6 107.7,765.1C111.4,764.7 115.3,762.9 117.7,761.4C120,759.9 121.4,758.1 121.7,756.4C121.9,754.6 119.6,751.8 119.2,750.9" fill="none" stroke="#b81000" stroke-width="2.6" stroke-linecap="round" stroke-linejoin="round" opacity="1" filter="url(#bl0)"/><path d="M91.4,745.1C92,745.2 92.9,750.7 94.4,751.4C95.8,752.1 97.9,749.8 100.1,749.4C102.4,748.9 105.1,748.3 107.7,748.6C110.2,748.9 114,749.8 115.7,751.1C117.3,752.4 118.6,754.8 117.7,756.4C116.7,757.9 113.1,759.7 110.2,760.4C107.2,761.1 102.9,761.2 100.1,760.6C97.4,760.1 95.5,758.6 93.9,756.9C92.3,755.2 91,752.6 90.6,750.6C90.2,748.7 90.8,745 91.4,745.1Z" fill="#ffe000" stroke="#ffe000" stroke-width="1" filter="url(#bl1)"/><path d="M91.4,745.1C92,745.2 92.9,750.7 94.4,751.4C95.8,752.1 97.9,749.8 100.1,749.4C102.4,748.9 105.1,748.3 107.7,748.6C110.2,748.9 114,749.8 115.7,751.1C117.3,752.4 118.6,754.8 117.7,756.4C116.7,757.9 113.1,759.7 110.2,760.4C107.2,761.1 102.9,761.2 100.1,760.6C97.4,760.1 95.5,758.6 93.9,756.9C92.3,755.2 91,752.6 90.6,750.6C90.2,748.7 90.8,745 91.4,745.1Z" fill="#fb0a00" filter="url(#bl0)"/><path d="M107.2,756.6C108.3,755.8 112.4,754.4 113.9,754.6C115.4,754.9 116.3,757.1 115.9,758.1C115.5,759.2 112.9,760.6 111.4,760.9C109.9,761.1 107.9,760.3 107.2,759.6C106.4,758.9 106,757.5 107.2,756.6Z" fill="#00e0ff" stroke="#00e0ff" stroke-width="1" filter="url(#bl1)"/><path d="M107.2,756.6C108.3,755.8 112.4,754.4 113.9,754.6C115.4,754.9 116.3,757.1 115.9,758.1C115.5,759.2 112.9,760.6 111.4,760.9C109.9,761.1 107.9,760.3 107.2,759.6C106.4,758.9 106,757.5 107.2,756.6Z" fill="#0818e8" filter="url(#bl0)"/><path d="M126.4,738.1C126.4,736.2 129.1,734.3 131.4,733.6C133.7,732.9 137.6,733.2 140.2,734.1C142.8,735 146.2,737.1 147.2,738.9C148.2,740.6 147.6,743.2 146.5,744.6C145.3,746 142.7,747 140.2,747.1C137.7,747.2 133.7,746.6 131.4,745.1C129.1,743.6 126.4,740 126.4,738.1Z" fill="#0818e8" filter="url(#bl0)"/><path d="M126.4,738.1C126.4,736.2 129.1,734.3 131.4,733.6C133.7,732.9 137.6,733.2 140.2,734.1C142.8,735 146.2,737.1 147.2,738.9C148.2,740.6 147.6,743.2 146.5,744.6C145.3,746 142.7,747 140.2,747.1C137.7,747.2 133.7,746.6 131.4,745.1C129.1,743.6 126.4,740 126.4,738.1Z" class="ct"/><path d="M135.7,790.2C135.9,786.7 136.8,782.7 138.2,780.7C139.6,778.7 142,777.8 144,778.2C145.9,778.5 148.6,780.3 149.7,782.7C150.8,785.1 151,789.3 150.7,792.7C150.5,796.1 149.5,800.9 148.2,803.2C146.9,805.5 144.5,806.7 142.7,806.5C140.9,806.2 138.4,804.2 137.2,801.4C136,798.7 135.5,793.6 135.7,790.2Z" fill="#0818e8" filter="url(#bl0)"/><path d="M135.7,790.2C135.9,786.7 136.8,782.7 138.2,780.7C139.6,778.7 142,777.8 144,778.2C145.9,778.5 148.6,780.3 149.7,782.7C150.8,785.1 151,789.3 150.7,792.7C150.5,796.1 149.5,800.9 148.2,803.2C146.9,805.5 144.5,806.7 142.7,806.5C140.9,806.2 138.4,804.2 137.2,801.4C136,798.7 135.5,793.6 135.7,790.2Z" class="ct"/><path d="M151.7,790.2C152.2,786.6 153.3,781.2 155.2,778.7C157.1,776.2 160.6,774.9 163.2,775.2C165.9,775.4 169.4,777.5 171.2,780.2C173.1,782.9 174.2,787.3 174.5,791.4C174.7,795.6 174.3,801.6 172.7,805.2C171.2,808.8 167.8,812.4 165.2,813.2C162.6,814 159.4,812.4 157.2,810.2C155.1,808 153.1,803.5 152.2,800.2C151.3,796.9 151.2,793.8 151.7,790.2Z" fill="#ffe000" stroke="#ffe000" stroke-width="2.5" filter="url(#bl1)"/><path d="M151.7,790.2C152.2,786.6 153.3,781.2 155.2,778.7C157.1,776.2 160.6,774.9 163.2,775.2C165.9,775.4 169.4,777.5 171.2,780.2C173.1,782.9 174.2,787.3 174.5,791.4C174.7,795.6 174.3,801.6 172.7,805.2C171.2,808.8 167.8,812.4 165.2,813.2C162.6,814 159.4,812.4 157.2,810.2C155.1,808 153.1,803.5 152.2,800.2C151.3,796.9 151.2,793.8 151.7,790.2Z" fill="#fb0a00" filter="url(#bl0)"/><path d="M151.7,790.2C152.2,786.6 153.3,781.2 155.2,778.7C157.1,776.2 160.6,774.9 163.2,775.2C165.9,775.4 169.4,777.5 171.2,780.2C173.1,782.9 174.2,787.3 174.5,791.4C174.7,795.6 174.3,801.6 172.7,805.2C171.2,808.8 167.8,812.4 165.2,813.2C162.6,814 159.4,812.4 157.2,810.2C155.1,808 153.1,803.5 152.2,800.2C151.3,796.9 151.2,793.8 151.7,790.2Z" class="ct"/><circle cx="71.4" cy="745.9" r="6.8" fill="#fff" stroke="#222" stroke-width="0.5"/><circle cx="91.4" cy="728.1" r="6.8" fill="#fff" stroke="#222" stroke-width="0.5"/><text x="93.1" y="756.9" class="vl" font-size="8.3">B2-5</text><text x="133.7" y="745.6" class="vl" font-size="8.3">A1-3</text><text x="127.9" y="799.2" class="vl" font-size="8.3">A2-3</text><text x="158.7" y="798.2" class="vl" font-size="8.3">B2-4</text></g>
<path d="M31.6,677.2V809.4H337.6" fill="none" stroke="#222" stroke-width="1"/><path d="M44.9,809.4v-2.6M71.4,809.4v-2.6M98,809.4v-2.6M124.6,809.4v-2.6M151.1,809.4v-2.6M177.7,809.4v-2.6M204.2,809.4v-2.6M230.8,809.4v-2.6M257.4,809.4v-2.6M283.9,809.4v-2.6M310.5,809.4v-2.6M337,809.4v-2.6M31.6,796.2h3M31.6,769.7h3M31.6,743.3h3M31.6,716.9h3M31.6,690.4h3" stroke="#111" stroke-width="0.9" fill="none"/><text x="42.5" y="820.7" class="tk" text-anchor="middle">−2</text><text x="99.1" y="820.7" class="tk" text-anchor="middle">2</text><text x="152.5" y="820.7" class="tk" text-anchor="middle">6</text><text x="205.9" y="820.7" class="tk" text-anchor="middle">10</text><text x="259.4" y="820.7" class="tk" text-anchor="middle">14</text><text x="312.8" y="820.7" class="tk" text-anchor="middle">18</text><text x="30.3" y="800.1" class="tk" text-anchor="end">−4</text><text x="30.3" y="747.2" class="tk" text-anchor="end">0</text><text x="30.3" y="694.3" class="tk" text-anchor="end">4</text><text x="9.3" y="748.1" class="ax">y</text><text x="174.8" y="831.4" class="ax">x</text><text x="37.4" y="702" class="pl">(i)</text>
<path d="M411.3,755.1C417.4,749.4 435.4,729.5 447.6,720.8C459.8,712.1 472.8,702.4 484.6,702.8C496.5,703.2 507.1,714.6 518.7,723.3C530.3,732 542.7,745.7 554,755.1C565.3,764.5 575.9,775.5 586.3,779.7C596.7,783.9 606.4,781.2 616.6,780.2C626.8,779.2 636.4,778.5 647.4,773.9C658.4,769.3 676.6,756.4 682.5,752.9" fill="none" stroke="#6a6a6a" stroke-width="0.6"/><path d="M411.3,759.6C417.4,755.8 435.4,742.1 447.6,736.6C459.8,731.1 472.8,725.7 484.6,726.8C496.5,727.9 507.1,734.5 518.7,743.1C530.3,751.7 542.7,768.4 554,778.2C565.3,788 575.9,800.1 586.3,801.9C596.7,803.7 606.4,796.5 616.6,789.2C626.8,781.9 636.4,768.5 647.4,757.9C658.4,747.2 676.6,730.7 682.5,725.3" fill="none" stroke="#f44" stroke-width="0.6"/><rect x="409.8" y="754" width="3" height="2.2" fill="#333"/><rect x="446.1" y="719.7" width="3" height="2.2" fill="#333"/><rect x="483.1" y="701.7" width="3" height="2.2" fill="#333"/><rect x="517.2" y="722.2" width="3" height="2.2" fill="#333"/><rect x="552.5" y="754" width="3" height="2.2" fill="#333"/><rect x="584.8" y="778.6" width="3" height="2.2" fill="#333"/><rect x="615.1" y="779.1" width="3" height="2.2" fill="#333"/><rect x="645.9" y="772.8" width="3" height="2.2" fill="#333"/><rect x="681" y="751.8" width="3" height="2.2" fill="#333"/><circle cx="411.3" cy="759.6" r="1.55" fill="#f02020"/><circle cx="447.6" cy="736.6" r="1.55" fill="#f02020"/><circle cx="484.6" cy="726.8" r="1.55" fill="#f02020"/><circle cx="518.7" cy="743.1" r="1.55" fill="#f02020"/><circle cx="554" cy="778.2" r="1.55" fill="#f02020"/><circle cx="586.3" cy="801.9" r="1.55" fill="#f02020"/><circle cx="616.6" cy="789.2" r="1.55" fill="#f02020"/><circle cx="647.4" cy="757.9" r="1.55" fill="#f02020"/><circle cx="682.5" cy="725.3" r="1.55" fill="#f02020"/><text x="405.5" y="700.5" class="pl">(j)</text><text x="402.5" y="748.9" class="pl">(a)</text><text x="439.6" y="711.8" class="pl">(b)</text><text x="477.6" y="699.5" class="pl">(c)</text><text x="512.7" y="718.3" class="pl">(d)</text><text x="548.5" y="747.4" class="pl">(e)</text><text x="580.1" y="774.2" class="pl">(f )</text><text x="610.6" y="774.7" class="pl">(g)</text><text x="636.9" y="751.1" class="pl">(h)</text><text x="674.5" y="720.1" class="pl">(i )</text><path d="M566.8,694.3H585.6" stroke="#6a6a6a" stroke-width="0.6"/><rect x="574.6" y="693.2" width="3" height="2.2" fill="#333"/><path d="M566.8,707H585.6" stroke="#f44" stroke-width="0.6"/><circle cx="576.1" cy="707" r="1.55" fill="#f02020"/><text x="588.6" y="697.6" class="lg">upstream</text><text x="588.2" y="710.8" class="lg">downstream</text>
</svg>
</body></html>
